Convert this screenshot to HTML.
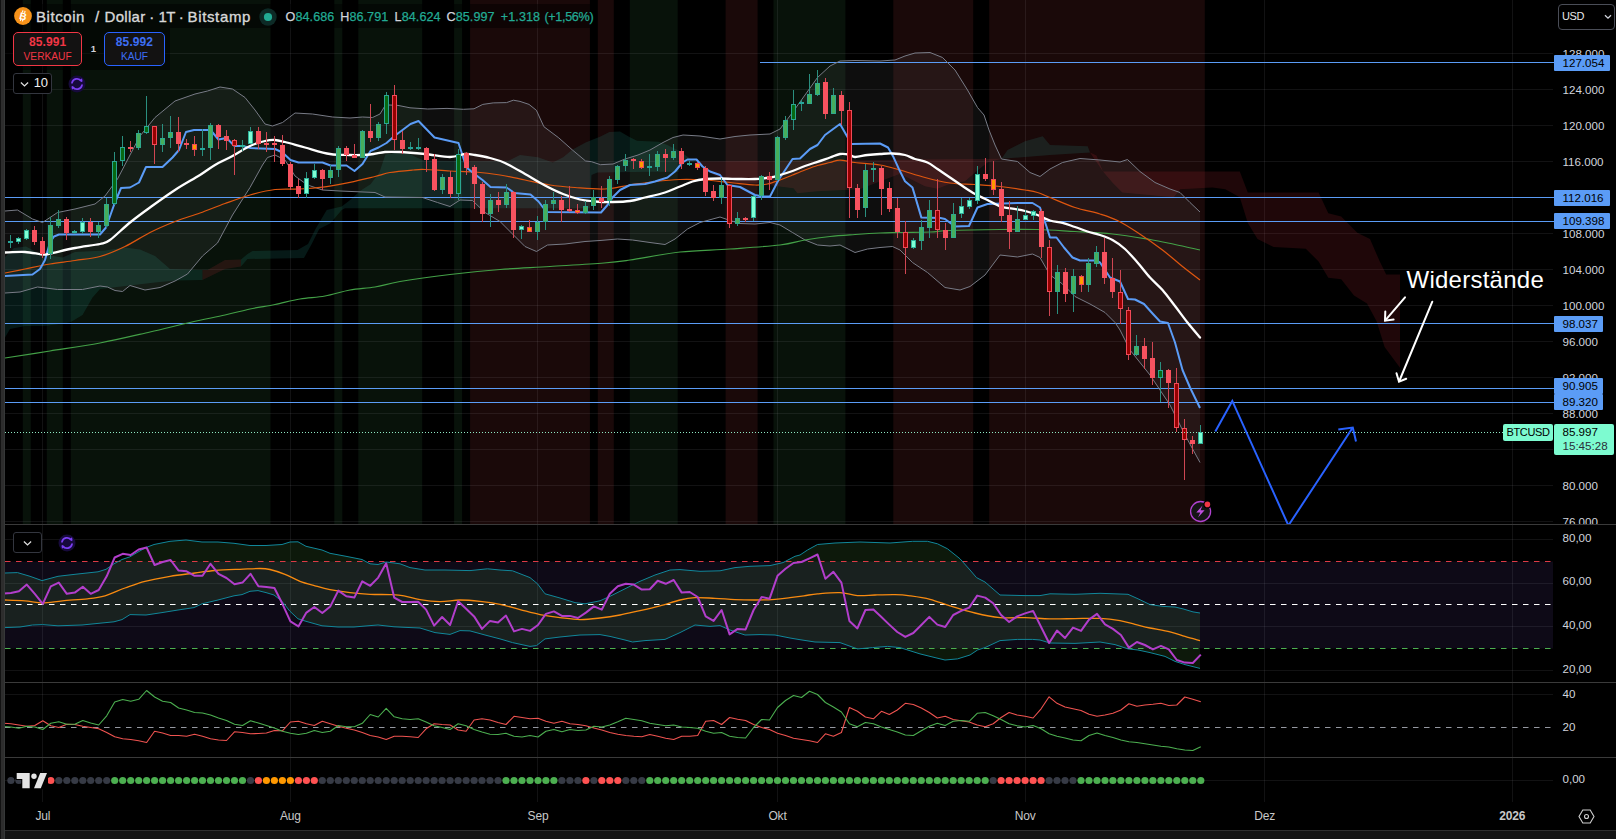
<!DOCTYPE html>
<html><head><meta charset="utf-8"><title>BTCUSD</title><style>
html,body{margin:0;padding:0;background:#000;}
body{width:1616px;height:839px;overflow:hidden;position:relative;font-family:"Liberation Sans",sans-serif;color:#d1d4dc;}
div{box-sizing:border-box;}
.ax{position:absolute;left:1562.5px;font-size:11.6px;line-height:14px;height:14px;color:#d1d4dc;white-space:nowrap;letter-spacing:0;}
.pb{position:absolute;left:1554px;height:16px;background:#5b9cf6;color:#000;font-size:11.6px;line-height:16px;padding-left:8.5px;white-space:nowrap;letter-spacing:0;border-radius:1px;}
.lp{position:absolute;left:1554px;top:423.5px;width:60px;height:31px;background:#7dfbd0;color:#000;font-size:11.6px;line-height:14px;padding:1.5px 0 0 8.5px;letter-spacing:0;border-radius:2px;}
.lp .t{color:#2a2e39;}
.sym{position:absolute;left:1503px;top:424px;width:50px;height:17px;background:#7dfbd0;color:#000;font-size:11px;line-height:17px;text-align:center;letter-spacing:-0.35px;border-radius:2px;}
.usd{position:absolute;left:1557.5px;top:4.2px;width:57px;height:25.5px;border:1px solid #4a4d57;border-radius:4px;font-size:11px;line-height:22.5px;padding-left:3.5px;color:#e8e8e8;letter-spacing:-0.35px;background:#000;}
.usd svg{position:absolute;left:45px;top:9px;}
.tl{position:absolute;top:808.5px;width:60px;text-align:center;font-size:12px;line-height:14px;color:#c8c8c8;letter-spacing:-0.2px;}
.tl.b{font-weight:bold;}
.wid{position:absolute;left:1406.5px;top:265.3px;font-size:24px;line-height:30px;color:#fff;white-space:nowrap;letter-spacing:0.25px;}
.lgbg{position:absolute;background:rgba(0,0,0,0.45);}
.title{position:absolute;top:6.9px;font-size:15px;line-height:20px;color:#d8d8d8;white-space:nowrap;-webkit-text-stroke:0.35px #d8d8d8;}
.ohlc{position:absolute;left:285.5px;top:8.6px;font-size:12.6px;line-height:16px;white-space:nowrap;letter-spacing:0.08px;-webkit-text-stroke:0.25px currentColor;}
.ohlc .k{color:#d1d4dc;}
.ohlc .v{color:#22ab94;}
.btn{position:absolute;top:32px;height:34px;border-radius:5px;background:#131212;text-align:center;}
.btn .p{font-weight:bold;font-size:12px;line-height:13px;margin-top:3px;letter-spacing:0.1px;}
.btn .n{font-size:10.2px;line-height:12px;margin-top:1.6px;}
.sell{left:13px;width:69.3px;border:1px solid #f23645;color:#f23645;}
.buy{left:104px;width:61px;border:1px solid #2962ff;color:#3d6ef5;}
.one{position:absolute;left:89px;top:43px;width:9px;text-align:center;font-size:9.5px;line-height:12px;font-weight:bold;color:#d1d4dc;}
.coll{position:absolute;border:1px solid #33363f;border-radius:3px;background:#000;}
.coll span{position:absolute;left:19.5px;top:2px;font-size:13px;letter-spacing:-0.4px;line-height:14px;color:#f0f0f0;}
</style></head><body>
<svg width="1616" height="839" viewBox="0 0 1616 839" style="position:absolute;left:0;top:0">
<rect x="22.8" y="0" width="8" height="524" fill="#08120a"/>
<rect x="46.8" y="0" width="16" height="524" fill="#08120a"/>
<rect x="70.8" y="0" width="199.7" height="524" fill="#08120a"/>
<rect x="334.3" y="0" width="8" height="524" fill="#08120a"/>
<rect x="358.3" y="0" width="63.9" height="524" fill="#08120a"/>
<rect x="454.1" y="0" width="8" height="524" fill="#08120a"/>
<rect x="629.8" y="0" width="47.9" height="524" fill="#08120a"/>
<rect x="773.5" y="0" width="71.9" height="524" fill="#08120a"/>
<rect x="470.1" y="0" width="119.8" height="524" fill="#1a0909"/>
<rect x="597.8" y="0" width="16" height="524" fill="#1a0909"/>
<rect x="725.6" y="0" width="32" height="524" fill="#1a0909"/>
<rect x="893.3" y="0" width="79.9" height="524" fill="#1a0909"/>
<rect x="989.2" y="0" width="215.6" height="524" fill="#1a0909"/>
<line x1="5" y1="53.5" x2="1553" y2="53.5" stroke="rgba(240,243,250,0.075)" stroke-width="1"/>
<line x1="5" y1="89.5" x2="1553" y2="89.5" stroke="rgba(240,243,250,0.075)" stroke-width="1"/>
<line x1="5" y1="125.5" x2="1553" y2="125.5" stroke="rgba(240,243,250,0.075)" stroke-width="1"/>
<line x1="5" y1="161.5" x2="1553" y2="161.5" stroke="rgba(240,243,250,0.075)" stroke-width="1"/>
<line x1="5" y1="197.5" x2="1553" y2="197.5" stroke="rgba(240,243,250,0.075)" stroke-width="1"/>
<line x1="5" y1="233.5" x2="1553" y2="233.5" stroke="rgba(240,243,250,0.075)" stroke-width="1"/>
<line x1="5" y1="269.5" x2="1553" y2="269.5" stroke="rgba(240,243,250,0.075)" stroke-width="1"/>
<line x1="5" y1="305.5" x2="1553" y2="305.5" stroke="rgba(240,243,250,0.075)" stroke-width="1"/>
<line x1="5" y1="341.5" x2="1553" y2="341.5" stroke="rgba(240,243,250,0.075)" stroke-width="1"/>
<line x1="5" y1="377.5" x2="1553" y2="377.5" stroke="rgba(240,243,250,0.075)" stroke-width="1"/>
<line x1="5" y1="413.5" x2="1553" y2="413.5" stroke="rgba(240,243,250,0.075)" stroke-width="1"/>
<line x1="5" y1="449.5" x2="1553" y2="449.5" stroke="rgba(240,243,250,0.075)" stroke-width="1"/>
<line x1="5" y1="485.5" x2="1553" y2="485.5" stroke="rgba(240,243,250,0.075)" stroke-width="1"/>
<line x1="5" y1="521.5" x2="1553" y2="521.5" stroke="rgba(240,243,250,0.075)" stroke-width="1"/>
<line x1="42.5" y1="0" x2="42.5" y2="802" stroke="rgba(240,243,250,0.075)" stroke-width="1"/>
<line x1="290.5" y1="0" x2="290.5" y2="802" stroke="rgba(240,243,250,0.075)" stroke-width="1"/>
<line x1="537.5" y1="0" x2="537.5" y2="802" stroke="rgba(240,243,250,0.075)" stroke-width="1"/>
<line x1="777.5" y1="0" x2="777.5" y2="802" stroke="rgba(240,243,250,0.075)" stroke-width="1"/>
<line x1="1025.5" y1="0" x2="1025.5" y2="802" stroke="rgba(240,243,250,0.075)" stroke-width="1"/>
<line x1="1264.5" y1="0" x2="1264.5" y2="802" stroke="rgba(240,243,250,0.075)" stroke-width="1"/>
<line x1="1512.5" y1="0" x2="1512.5" y2="802" stroke="rgba(240,243,250,0.075)" stroke-width="1"/>
<line x1="5" y1="539.5" x2="1553" y2="539.5" stroke="rgba(240,243,250,0.075)" stroke-width="1"/>
<line x1="5" y1="583.5" x2="1553" y2="583.5" stroke="rgba(240,243,250,0.075)" stroke-width="1"/>
<line x1="5" y1="626.5" x2="1553" y2="626.5" stroke="rgba(240,243,250,0.075)" stroke-width="1"/>
<line x1="5" y1="670.5" x2="1553" y2="670.5" stroke="rgba(240,243,250,0.075)" stroke-width="1"/>
<line x1="5" y1="694.5" x2="1553" y2="694.5" stroke="rgba(240,243,250,0.075)" stroke-width="1"/>
<line x1="5" y1="780.5" x2="1553" y2="780.5" stroke="rgba(240,243,250,0.075)" stroke-width="1"/>
<polygon points="5.0,257.0 14.0,248.0 26.0,246.5 40.0,254.0 62.5,257.5 75.0,252.0 105.0,250.5 125.0,247.5 140.0,249.5 155.0,256.0 170.0,269.0 202.5,270.0 202.5,280.0 175.0,280.5 155.0,282.5 100.0,289.0 92.5,297.5 82.5,315.0 70.0,322.5 45.0,326.0 25.0,326.0 10.0,329.0 5.0,337.5" fill="rgba(38,166,154,0.15)"/>
<polygon points="202.5,270.0 207.5,270.0 225.0,260.0 241.0,259.5 241.0,266.5 225.0,269.0 202.5,280.0" fill="rgba(242,54,69,0.13)"/>
<polygon points="241.0,259.5 247.5,254.0 252.5,251.0 297.5,250.0 308.0,244.0 315.5,229.0 326.7,210.0 341.7,206.4 349.2,200.7 360.0,191.0 370.5,184.3 379.4,172.4 385.4,154.5 394.3,153.0 409.2,153.8 416.7,157.5 424.0,160.5 470.0,161.2 508.0,161.0 520.0,155.0 538.0,157.3 552.8,162.5 563.2,157.3 572.2,149.8 585.6,142.4 600.5,136.4 609.4,132.0 620.0,131.6 629.0,136.7 637.0,140.7 658.8,141.7 666.7,144.7 678.6,150.6 694.5,161.5 679.5,161.5 678.5,172.0 651.0,171.7 597.4,172.4 591.5,175.0 590.0,208.3 345.0,208.3 341.7,210.0 330.5,223.3 319.2,229.0 311.7,244.0 304.0,258.0 247.5,259.0 241.0,266.5" fill="rgba(38,166,154,0.15)"/>
<polygon points="694.5,161.5 1001.4,158.8 987.6,162.5 975.0,172.5 965.0,181.3 950.0,183.8 937.5,188.8 925.0,186.3 912.5,180.0 900.0,173.8 859.6,189.2 817.2,191.2 797.4,193.2 793.5,188.2 777.6,186.2 757.8,183.3 728.0,183.3 704.4,169.4" fill="rgba(242,54,69,0.13)"/>
<polygon points="1001.4,158.8 1007.6,150.0 1025.0,141.3 1042.7,136.3 1050.0,145.0 1087.7,146.3 1090.0,152.5 1050.0,155.0" fill="rgba(38,166,154,0.15)"/>
<polygon points="1090.0,152.5 1096.5,155.4 1103.0,171.5 1239.8,171.5 1247.8,192.4 1318.6,192.4 1328.3,213.3 1341.2,216.6 1357.3,232.7 1370.0,239.0 1379.8,261.6 1386.2,274.5 1400.0,274.5 1400.0,367.8 1384.6,346.9 1376.6,321.2 1367.0,303.5 1354.0,295.4 1341.2,279.3 1328.3,277.7 1318.6,261.6 1305.8,248.7 1273.6,247.1 1257.5,239.1 1247.8,223.0 1239.8,197.2 1225.3,189.2 1212.4,187.6 1180.2,189.2 1173.8,197.2 1122.3,192.4 1112.6,182.8 1103.0,171.5" fill="rgba(242,54,69,0.13)"/>
<polygon points="5.0,211.0 17.5,210.0 32.5,219.0 42.5,222.5 57.5,212.5 75.0,209.0 95.0,204.0 105.0,196.0 117.5,179.0 130.0,155.0 140.0,136.0 155.0,117.5 175.0,101.0 195.0,94.0 207.5,91.0 220.0,87.0 232.5,89.0 245.0,97.5 255.0,110.0 265.0,124.0 272.5,126.0 282.5,122.5 295.0,113.0 312.5,114.0 332.5,117.0 350.0,118.0 362.5,117.0 372.5,117.5 380.0,114.0 384.5,106.6 389.0,105.0 398.0,105.4 410.0,107.8 427.7,109.0 447.0,108.4 463.4,109.3 474.0,108.8 482.8,104.4 493.2,102.9 506.6,102.6 513.3,100.2 520.0,101.4 529.0,104.4 536.4,110.3 543.9,126.7 558.8,137.9 572.2,149.8 585.6,161.0 591.5,161.7 600.5,164.7 613.0,164.0 625.0,159.0 638.0,155.0 650.0,150.0 663.0,142.5 673.0,137.5 683.0,135.0 700.0,136.0 720.0,139.0 735.0,136.5 750.0,135.0 770.0,134.0 780.0,129.0 792.5,112.5 805.0,95.0 817.5,77.5 830.0,66.0 840.0,61.0 855.0,60.5 880.0,61.0 895.0,60.0 905.0,56.0 915.0,53.0 930.0,52.5 942.5,57.5 955.0,70.0 967.5,90.0 977.5,107.5 984.0,115.0 989.0,130.0 995.0,145.0 1001.5,159.0 1017.5,161.5 1030.0,172.5 1040.0,176.5 1050.0,169.0 1062.5,162.5 1080.0,158.5 1100.0,160.0 1120.0,162.0 1127.5,159.5 1140.0,171.5 1155.0,182.5 1170.0,189.0 1180.0,192.5 1190.0,202.5 1200.0,212.0 1200.0,462.5 1185.0,435.0 1170.0,405.0 1150.0,375.0 1130.0,350.0 1120.0,330.0 1115.0,322.5 1105.0,312.5 1090.0,304.0 1075.0,296.5 1062.5,284.0 1050.0,275.0 1040.0,257.5 1032.5,254.0 1017.5,257.0 1000.0,255.0 985.0,275.0 970.0,286.5 960.0,290.0 945.0,287.5 927.5,272.5 912.5,262.5 900.0,250.0 892.5,246.5 880.0,247.5 867.5,249.0 855.0,252.5 840.0,245.0 830.0,246.0 817.5,245.0 805.0,240.0 792.5,232.5 780.0,225.0 770.0,222.5 755.0,224.0 740.0,223.5 730.0,220.5 720.0,217.0 700.0,222.5 687.5,229.0 675.0,239.0 665.0,244.5 650.0,242.5 632.5,240.0 617.5,239.0 600.0,240.5 585.0,241.5 565.0,244.0 547.5,245.0 536.5,251.5 525.0,246.5 512.5,234.0 500.0,221.5 485.0,212.5 472.5,200.5 460.0,200.0 450.0,206.5 437.5,202.5 422.5,197.5 385.0,197.0 375.0,192.5 340.0,191.0 322.5,190.0 307.5,185.0 295.0,176.0 285.0,160.0 275.0,155.0 267.5,157.5 262.5,165.0 250.0,187.5 232.5,215.0 217.5,243.0 202.5,256.0 187.5,274.0 175.0,281.0 160.0,287.5 145.0,290.0 130.0,285.5 122.5,291.5 115.0,290.5 107.5,287.0 100.0,286.0 82.5,289.5 57.5,289.5 37.5,287.0 20.0,292.0 5.0,293.0" fill="rgba(210,215,210,0.066)"/>
<line x1="760" y1="62.5" x2="1554" y2="62.5" stroke="#5b9cf6" stroke-width="1"/>
<line x1="5" y1="197.5" x2="1554" y2="197.5" stroke="#5b9cf6" stroke-width="1"/>
<line x1="5" y1="221.5" x2="1554" y2="221.5" stroke="#5b9cf6" stroke-width="1"/>
<line x1="5" y1="323.5" x2="1554" y2="323.5" stroke="#5b9cf6" stroke-width="1"/>
<line x1="5" y1="388.5" x2="1554" y2="388.5" stroke="#5b9cf6" stroke-width="1"/>
<line x1="5" y1="402.5" x2="1554" y2="402.5" stroke="#5b9cf6" stroke-width="1"/>
<polyline points="5.0,211.0 17.5,210.0 32.5,219.0 42.5,222.5 57.5,212.5 75.0,209.0 95.0,204.0 105.0,196.0 117.5,179.0 130.0,155.0 140.0,136.0 155.0,117.5 175.0,101.0 195.0,94.0 207.5,91.0 220.0,87.0 232.5,89.0 245.0,97.5 255.0,110.0 265.0,124.0 272.5,126.0 282.5,122.5 295.0,113.0 312.5,114.0 332.5,117.0 350.0,118.0 362.5,117.0 372.5,117.5 380.0,114.0 384.5,106.6 389.0,105.0 398.0,105.4 410.0,107.8 427.7,109.0 447.0,108.4 463.4,109.3 474.0,108.8 482.8,104.4 493.2,102.9 506.6,102.6 513.3,100.2 520.0,101.4 529.0,104.4 536.4,110.3 543.9,126.7 558.8,137.9 572.2,149.8 585.6,161.0 591.5,161.7 600.5,164.7 613.0,164.0 625.0,159.0 638.0,155.0 650.0,150.0 663.0,142.5 673.0,137.5 683.0,135.0 700.0,136.0 720.0,139.0 735.0,136.5 750.0,135.0 770.0,134.0 780.0,129.0 792.5,112.5 805.0,95.0 817.5,77.5 830.0,66.0 840.0,61.0 855.0,60.5 880.0,61.0 895.0,60.0 905.0,56.0 915.0,53.0 930.0,52.5 942.5,57.5 955.0,70.0 967.5,90.0 977.5,107.5 984.0,115.0 989.0,130.0 995.0,145.0 1001.5,159.0 1017.5,161.5 1030.0,172.5 1040.0,176.5 1050.0,169.0 1062.5,162.5 1080.0,158.5 1100.0,160.0 1120.0,162.0 1127.5,159.5 1140.0,171.5 1155.0,182.5 1170.0,189.0 1180.0,192.5 1190.0,202.5 1200.0,212.0" fill="none" stroke="#787b86" stroke-width="1" stroke-linejoin="round"/>
<polyline points="5.0,293.0 20.0,292.0 37.5,287.0 57.5,289.5 82.5,289.5 100.0,286.0 107.5,287.0 115.0,290.5 122.5,291.5 130.0,285.5 145.0,290.0 160.0,287.5 175.0,281.0 187.5,274.0 202.5,256.0 217.5,243.0 232.5,215.0 250.0,187.5 262.5,165.0 267.5,157.5 275.0,155.0 285.0,160.0 295.0,176.0 307.5,185.0 322.5,190.0 340.0,191.0 375.0,192.5 385.0,197.0 422.5,197.5 437.5,202.5 450.0,206.5 460.0,200.0 472.5,200.5 485.0,212.5 500.0,221.5 512.5,234.0 525.0,246.5 536.5,251.5 547.5,245.0 565.0,244.0 585.0,241.5 600.0,240.5 617.5,239.0 632.5,240.0 650.0,242.5 665.0,244.5 675.0,239.0 687.5,229.0 700.0,222.5 720.0,217.0 730.0,220.5 740.0,223.5 755.0,224.0 770.0,222.5 780.0,225.0 792.5,232.5 805.0,240.0 817.5,245.0 830.0,246.0 840.0,245.0 855.0,252.5 867.5,249.0 880.0,247.5 892.5,246.5 900.0,250.0 912.5,262.5 927.5,272.5 945.0,287.5 960.0,290.0 970.0,286.5 985.0,275.0 1000.0,255.0 1017.5,257.0 1032.5,254.0 1040.0,257.5 1050.0,275.0 1062.5,284.0 1075.0,296.5 1090.0,304.0 1105.0,312.5 1115.0,322.5 1120.0,330.0 1130.0,350.0 1150.0,375.0 1170.0,405.0 1185.0,435.0 1200.0,462.5" fill="none" stroke="#787b86" stroke-width="1" stroke-linejoin="round"/>
<path d="M5.0 358.0 C12.5 356.8 34.2 353.5 50.0 351.0 C65.8 348.5 83.3 346.2 100.0 343.0 C116.7 339.8 135.0 335.4 150.0 332.0 C165.0 328.6 177.5 325.3 190.0 322.5 C202.5 319.7 215.0 317.2 225.0 315.0 C235.0 312.8 241.7 310.8 250.0 309.0 C258.3 307.2 266.7 306.2 275.0 304.5 C283.3 302.8 291.7 300.4 300.0 299.0 C308.3 297.6 316.7 297.5 325.0 296.0 C333.3 294.5 341.7 291.5 350.0 290.0 C358.3 288.5 366.7 288.4 375.0 287.0 C383.3 285.6 387.5 283.6 400.0 281.5 C412.5 279.4 433.3 276.5 450.0 274.5 C466.7 272.5 483.3 270.8 500.0 269.5 C516.7 268.2 532.7 267.6 550.0 266.5 C567.3 265.4 590.7 264.1 604.0 263.0 C617.3 261.9 617.3 261.8 630.0 260.0 C642.7 258.2 663.3 253.8 680.0 252.0 C696.7 250.2 713.3 250.2 730.0 249.0 C746.7 247.8 767.5 246.5 780.0 245.0 C792.5 243.5 796.7 241.4 805.0 240.0 C813.3 238.6 821.7 237.4 830.0 236.5 C838.3 235.6 846.7 235.1 855.0 234.5 C863.3 233.9 872.5 233.3 880.0 233.0 C887.5 232.7 891.7 232.7 900.0 232.5 C908.3 232.3 921.7 232.3 930.0 232.0 C938.3 231.7 938.3 230.9 950.0 230.5 C961.7 230.1 985.4 229.7 1000.0 229.5 C1014.6 229.3 1025.0 229.2 1037.5 229.5 C1050.0 229.8 1062.5 230.8 1075.0 231.5 C1087.5 232.2 1100.0 232.7 1112.5 234.0 C1125.0 235.3 1139.6 237.8 1150.0 239.5 C1160.4 241.2 1166.7 242.8 1175.0 244.5 C1183.3 246.2 1195.8 249.1 1200.0 250.0" fill="none" stroke="#43a047" stroke-width="1.2"/>
<path d="M5.0 273.0 C8.3 272.3 17.5 270.5 25.0 269.0 C32.5 267.5 41.7 265.4 50.0 264.0 C58.3 262.6 66.7 261.8 75.0 260.5 C83.3 259.2 91.7 258.8 100.0 256.5 C108.3 254.2 116.7 250.5 125.0 246.5 C133.3 242.5 141.7 236.7 150.0 232.5 C158.3 228.3 166.7 224.8 175.0 221.5 C183.3 218.2 191.7 216.0 200.0 213.0 C208.3 210.0 216.7 206.5 225.0 203.5 C233.3 200.5 241.7 197.3 250.0 195.0 C258.3 192.7 266.7 190.5 275.0 189.5 C283.3 188.5 291.7 189.4 300.0 189.0 C308.3 188.6 316.7 187.9 325.0 186.8 C333.3 185.7 341.7 184.0 350.0 182.3 C358.3 180.6 368.3 178.1 375.0 176.5 C381.7 174.9 383.8 173.6 390.0 172.5 C396.2 171.4 406.7 170.5 412.5 170.0 C418.3 169.5 418.8 169.3 425.0 169.5 C431.2 169.7 441.7 170.6 450.0 171.0 C458.3 171.4 466.7 171.3 475.0 172.0 C483.3 172.7 491.7 173.7 500.0 175.0 C508.3 176.3 516.7 178.3 525.0 180.0 C533.3 181.7 541.7 183.8 550.0 185.0 C558.3 186.2 565.8 186.8 575.0 187.5 C584.2 188.2 595.8 189.4 605.0 189.0 C614.2 188.6 621.7 186.2 630.0 185.0 C638.3 183.8 646.7 182.4 655.0 181.5 C663.3 180.6 671.7 179.8 680.0 179.5 C688.3 179.2 696.7 179.5 705.0 180.0 C713.3 180.5 721.7 181.7 730.0 182.5 C738.3 183.3 748.8 184.8 755.0 185.0 C761.2 185.2 763.3 184.8 767.5 184.0 C771.7 183.2 775.8 181.5 780.0 180.0 C784.2 178.5 788.3 176.7 792.5 175.0 C796.7 173.3 800.8 171.6 805.0 170.0 C809.2 168.4 813.3 166.8 817.5 165.5 C821.7 164.2 826.2 163.4 830.0 162.5 C833.8 161.6 835.8 160.0 840.0 160.0 C844.2 160.0 848.3 161.7 855.0 162.5 C861.7 163.3 872.5 163.8 880.0 165.0 C887.5 166.2 892.5 167.9 900.0 170.0 C907.5 172.1 916.7 175.3 925.0 177.5 C933.3 179.7 941.7 181.8 950.0 183.0 C958.3 184.2 966.7 183.9 975.0 184.5 C983.3 185.1 991.7 185.6 1000.0 186.5 C1008.3 187.4 1018.8 189.0 1025.0 190.0 C1031.2 191.0 1033.3 191.2 1037.5 192.5 C1041.7 193.8 1043.8 195.0 1050.0 197.5 C1056.2 200.0 1066.7 204.8 1075.0 207.5 C1083.3 210.2 1092.9 211.8 1100.0 214.0 C1107.1 216.2 1111.2 217.4 1117.5 220.5 C1123.8 223.6 1130.0 227.6 1137.5 232.5 C1145.0 237.4 1155.0 244.3 1162.5 250.0 C1170.0 255.7 1176.2 261.5 1182.5 266.5 C1188.8 271.5 1197.1 277.8 1200.0 280.0" fill="none" stroke="#de560f" stroke-width="1.25"/>
<polyline points="5.0,276.0 32.5,274.5 40.0,269.0 45.0,260.0 50.0,242.5 54.0,236.5 59.0,234.5 100.0,234.5 106.0,227.5 114.0,205.0 121.0,188.0 130.0,187.5 139.0,182.5 146.0,167.0 162.5,167.0 172.5,157.5 179.0,150.0 186.0,132.0 194.0,130.0 210.5,130.0 218.5,139.5 226.5,138.0 234.5,146.0 242.5,146.0 250.5,148.0 275.0,149.0 282.5,152.5 290.5,160.0 298.5,162.5 322.5,162.5 330.5,165.5 346.5,165.5 354.5,171.0 362.5,164.0 370.5,151.0 378.5,147.5 386.5,143.0 394.5,136.0 402.5,130.0 410.5,124.0 418.5,121.0 434.5,137.5 458.5,143.0 466.5,167.5 474.5,174.0 482.5,180.0 490.5,187.0 506.5,187.5 514.5,193.0 530.5,194.5 538.5,201.5 546.5,212.0 601.0,212.5 607.5,205.0 612.5,197.5 620.0,190.0 630.0,185.0 645.0,184.0 655.0,181.5 667.5,177.5 675.0,171.5 682.5,162.5 687.5,159.5 696.5,159.5 702.5,166.5 710.0,171.5 720.0,175.0 727.5,185.0 740.0,187.0 755.0,195.0 762.5,196.5 770.0,196.5 778.5,180.0 792.5,159.0 800.0,158.5 810.0,149.0 817.5,145.0 825.0,135.0 840.0,124.0 851.5,144.0 880.0,143.5 888.0,147.5 893.6,157.3 900.0,171.3 905.0,181.3 912.5,187.6 921.4,217.6 940.5,218.0 945.0,219.0 955.0,226.5 969.0,226.0 977.5,207.5 987.5,204.0 1017.5,203.0 1032.5,203.0 1040.0,207.5 1046.5,226.5 1050.0,237.5 1056.5,237.5 1064.0,247.5 1072.5,257.5 1080.0,260.5 1095.0,260.5 1100.0,262.5 1110.0,277.5 1120.0,281.5 1128.0,299.0 1135.0,299.5 1144.0,304.0 1153.0,314.0 1160.0,321.5 1168.0,323.0 1175.0,342.5 1182.5,370.0 1190.0,387.5 1200.0,408.0" fill="none" stroke="#5b9cf6" stroke-width="2" stroke-linejoin="round"/>
<path d="M5.0 252.5 C8.3 252.4 18.8 251.7 25.0 252.0 C31.2 252.3 38.3 254.2 42.5 254.5 C46.7 254.8 44.6 254.6 50.0 253.5 C55.4 252.4 66.7 249.6 75.0 248.0 C83.3 246.4 94.2 245.3 100.0 244.0 C105.8 242.7 105.0 243.6 110.0 240.0 C115.0 236.4 123.3 227.9 130.0 222.5 C136.7 217.1 142.5 212.9 150.0 207.5 C157.5 202.1 166.7 195.4 175.0 190.0 C183.3 184.6 193.3 179.2 200.0 175.0 C206.7 170.8 209.6 168.2 215.0 165.0 C220.4 161.8 226.7 159.2 232.5 156.0 C238.3 152.8 244.6 148.5 250.0 146.0 C255.4 143.5 260.8 142.0 265.0 141.0 C269.2 140.0 271.7 139.8 275.0 140.0 C278.3 140.2 280.0 140.8 285.0 142.0 C290.0 143.2 297.5 145.5 305.0 147.5 C312.5 149.5 322.5 152.8 330.0 154.0 C337.5 155.2 343.3 154.9 350.0 155.0 C356.7 155.1 364.2 155.0 370.0 154.5 C375.8 154.0 380.0 152.4 385.0 152.0 C390.0 151.6 393.3 151.7 400.0 152.0 C406.7 152.3 416.7 153.2 425.0 154.0 C433.3 154.8 443.3 157.0 450.0 157.0 C456.7 157.0 460.8 154.3 465.0 154.0 C469.2 153.7 470.8 154.3 475.0 155.0 C479.2 155.7 485.0 156.7 490.0 158.0 C495.0 159.3 499.2 160.3 505.0 163.0 C510.8 165.7 518.3 170.2 525.0 174.0 C531.7 177.8 538.7 182.2 545.0 185.5 C551.3 188.8 557.2 191.7 563.0 194.0 C568.8 196.3 574.7 198.2 580.0 199.5 C585.3 200.8 589.6 201.1 595.0 201.5 C600.4 201.9 606.7 202.1 612.5 202.0 C618.3 201.9 624.6 201.8 630.0 201.0 C635.4 200.2 639.2 198.9 645.0 197.5 C650.8 196.1 659.2 194.3 665.0 192.5 C670.8 190.7 675.4 188.3 680.0 186.5 C684.6 184.7 688.3 182.8 692.5 181.5 C696.7 180.2 700.4 179.5 705.0 179.0 C709.6 178.5 714.2 178.5 720.0 178.5 C725.8 178.5 734.2 178.9 740.0 179.0 C745.8 179.1 750.0 179.2 755.0 179.0 C760.0 178.8 765.8 178.2 770.0 177.5 C774.2 176.8 776.2 176.1 780.0 175.0 C783.8 173.9 788.3 172.5 792.5 171.0 C796.7 169.5 800.8 167.5 805.0 166.0 C809.2 164.5 813.3 163.2 817.5 161.8 C821.7 160.4 826.2 158.8 830.0 157.5 C833.8 156.2 836.8 154.5 840.0 154.0 C843.2 153.5 846.5 154.0 849.0 154.5 C851.5 155.0 851.9 156.9 855.0 157.0 C858.1 157.1 863.3 155.5 867.5 155.0 C871.7 154.5 875.8 154.2 880.0 154.0 C884.2 153.8 888.3 153.3 892.5 153.5 C896.7 153.7 901.2 154.1 905.0 155.0 C908.8 155.9 911.2 157.8 915.0 159.0 C918.8 160.2 923.8 160.8 927.5 162.5 C931.2 164.2 933.8 166.5 937.5 169.0 C941.2 171.5 945.8 174.7 950.0 177.5 C954.2 180.3 958.3 183.2 962.5 186.0 C966.7 188.8 970.8 191.7 975.0 194.0 C979.2 196.3 983.3 197.9 987.5 200.0 C991.7 202.1 995.8 204.9 1000.0 206.3 C1004.2 207.8 1008.3 207.9 1012.5 208.7 C1016.7 209.5 1020.8 209.9 1025.0 211.0 C1029.2 212.1 1033.3 213.4 1037.5 215.0 C1041.7 216.6 1045.8 219.2 1050.0 220.5 C1054.2 221.8 1058.3 221.7 1062.5 222.8 C1066.7 223.9 1070.8 225.6 1075.0 227.0 C1079.2 228.4 1083.3 230.2 1087.5 231.5 C1091.7 232.8 1095.8 233.6 1100.0 235.0 C1104.2 236.4 1108.3 237.7 1112.5 240.0 C1116.7 242.3 1120.8 245.2 1125.0 249.0 C1129.2 252.8 1133.3 257.8 1137.5 262.5 C1141.7 267.2 1145.8 272.9 1150.0 277.5 C1154.2 282.1 1158.3 285.2 1162.5 290.0 C1166.7 294.8 1170.8 300.6 1175.0 306.0 C1179.2 311.4 1183.3 317.2 1187.5 322.5 C1191.7 327.8 1197.9 335.0 1200.0 337.5" fill="none" stroke="#ffffff" stroke-width="2.3" stroke-linecap="round"/>
<line x1="10.5" y1="235" x2="10.5" y2="248" stroke="#2a8f7f" stroke-width="1"/>
<rect x="8" y="241" width="5" height="2" fill="#26a69a"/>
<line x1="18.5" y1="237" x2="18.5" y2="244" stroke="#2a8f7f" stroke-width="1"/>
<rect x="16.5" y="238.5" width="4" height="3" fill="#7fffd4" stroke="#2fb09a" stroke-width="1"/>
<line x1="26.5" y1="229" x2="26.5" y2="240" stroke="#2a8f7f" stroke-width="1"/>
<rect x="24.5" y="230.5" width="4" height="8" fill="#7fffd4" stroke="#2fb09a" stroke-width="1"/>
<line x1="34.5" y1="226" x2="34.5" y2="245" stroke="#d04652" stroke-width="1"/>
<rect x="32.5" y="230.5" width="4" height="11" fill="#f7525f" stroke="#f7525f" stroke-width="1"/>
<line x1="42.5" y1="237" x2="42.5" y2="258" stroke="#d04652" stroke-width="1"/>
<rect x="40.5" y="241.5" width="4" height="12" fill="#f7525f" stroke="#f7525f" stroke-width="1"/>
<line x1="50.5" y1="217" x2="50.5" y2="259" stroke="#2a8f7f" stroke-width="1"/>
<rect x="48.5" y="225.5" width="4" height="28" fill="#46ae5b" stroke="#2fa88c" stroke-width="1"/>
<line x1="58.5" y1="210" x2="58.5" y2="228" stroke="#2a8f7f" stroke-width="1"/>
<rect x="56.5" y="219.5" width="4" height="6" fill="#46ae5b" stroke="#2fa88c" stroke-width="1"/>
<line x1="66.5" y1="217" x2="66.5" y2="240" stroke="#d04652" stroke-width="1"/>
<rect x="64.5" y="219.5" width="4" height="13" fill="#f7525f" stroke="#f7525f" stroke-width="1"/>
<line x1="74.5" y1="230" x2="74.5" y2="234" stroke="#2a8f7f" stroke-width="1"/>
<rect x="72" y="231" width="5" height="2" fill="#2fb09a"/>
<line x1="82.5" y1="218" x2="82.5" y2="234" stroke="#2a8f7f" stroke-width="1"/>
<rect x="80.5" y="222.5" width="4" height="9" fill="#7fffd4" stroke="#2fb09a" stroke-width="1"/>
<line x1="90.5" y1="218" x2="90.5" y2="237" stroke="#d04652" stroke-width="1"/>
<rect x="88.5" y="222.5" width="4" height="9" fill="#f7525f" stroke="#f7525f" stroke-width="1"/>
<line x1="98.5" y1="222" x2="98.5" y2="238" stroke="#2a8f7f" stroke-width="1"/>
<rect x="96.5" y="225.5" width="4" height="6" fill="#46ae5b" stroke="#2fa88c" stroke-width="1"/>
<line x1="106.5" y1="198" x2="106.5" y2="228" stroke="#2a8f7f" stroke-width="1"/>
<rect x="104.5" y="204.5" width="4" height="21" fill="#46ae5b" stroke="#2fa88c" stroke-width="1"/>
<line x1="114.5" y1="152" x2="114.5" y2="205" stroke="#2a8f7f" stroke-width="1"/>
<rect x="112.5" y="161.5" width="4" height="42" fill="#066a12" stroke="#2aa692" stroke-width="1"/>
<line x1="122.5" y1="136" x2="122.5" y2="166" stroke="#2a8f7f" stroke-width="1"/>
<rect x="120.5" y="147.5" width="4" height="13" fill="#066a12" stroke="#2aa692" stroke-width="1"/>
<line x1="130.5" y1="141" x2="130.5" y2="152" stroke="#d04652" stroke-width="1"/>
<rect x="128" y="147" width="5" height="2" fill="#f7525f"/>
<line x1="138.5" y1="130" x2="138.5" y2="150" stroke="#2a8f7f" stroke-width="1"/>
<rect x="136.5" y="133.5" width="4" height="14" fill="#46ae5b" stroke="#2fa88c" stroke-width="1"/>
<line x1="146.5" y1="96" x2="146.5" y2="134" stroke="#2a8f7f" stroke-width="1"/>
<rect x="144.5" y="126.5" width="4" height="6" fill="#066a12" stroke="#2aa692" stroke-width="1"/>
<line x1="154.5" y1="126" x2="154.5" y2="164" stroke="#d04652" stroke-width="1"/>
<rect x="152.5" y="126.5" width="4" height="18" fill="#960000" stroke="#f04a58" stroke-width="1"/>
<line x1="162.5" y1="124" x2="162.5" y2="152" stroke="#2a8f7f" stroke-width="1"/>
<rect x="160.5" y="138.5" width="4" height="6" fill="#46ae5b" stroke="#2fa88c" stroke-width="1"/>
<line x1="170.5" y1="116" x2="170.5" y2="148" stroke="#2a8f7f" stroke-width="1"/>
<rect x="168.5" y="132.5" width="4" height="5" fill="#46ae5b" stroke="#2fa88c" stroke-width="1"/>
<line x1="178.5" y1="117" x2="178.5" y2="152" stroke="#d04652" stroke-width="1"/>
<rect x="176.5" y="132.5" width="4" height="11" fill="#f7525f" stroke="#f7525f" stroke-width="1"/>
<line x1="186.5" y1="139" x2="186.5" y2="149" stroke="#d04652" stroke-width="1"/>
<rect x="184" y="143" width="5" height="2" fill="#f7525f"/>
<line x1="194.5" y1="136" x2="194.5" y2="156" stroke="#d04652" stroke-width="1"/>
<rect x="192.5" y="144.5" width="4" height="5" fill="#ff9800" stroke="#f04a58" stroke-width="1"/>
<line x1="202.5" y1="129" x2="202.5" y2="156" stroke="#2a8f7f" stroke-width="1"/>
<rect x="200.5" y="148.5" width="4" height="1" fill="#26a69a" stroke="#26a69a" stroke-width="1"/>
<line x1="210.5" y1="123" x2="210.5" y2="160" stroke="#2a8f7f" stroke-width="1"/>
<rect x="208.5" y="125.5" width="4" height="22" fill="#46ae5b" stroke="#2fa88c" stroke-width="1"/>
<line x1="218.5" y1="124" x2="218.5" y2="149" stroke="#d04652" stroke-width="1"/>
<rect x="216.5" y="125.5" width="4" height="11" fill="#f7525f" stroke="#f7525f" stroke-width="1"/>
<line x1="226.5" y1="130" x2="226.5" y2="150" stroke="#d04652" stroke-width="1"/>
<rect x="224.5" y="136.5" width="4" height="4" fill="#f7525f" stroke="#f7525f" stroke-width="1"/>
<line x1="234.5" y1="139" x2="234.5" y2="175" stroke="#d04652" stroke-width="1"/>
<rect x="232.5" y="140.5" width="4" height="5" fill="#960000" stroke="#f04a58" stroke-width="1"/>
<line x1="242.5" y1="140" x2="242.5" y2="151" stroke="#2a8f7f" stroke-width="1"/>
<rect x="240" y="145" width="5" height="2" fill="#2fb09a"/>
<line x1="250.5" y1="127" x2="250.5" y2="144" stroke="#2a8f7f" stroke-width="1"/>
<rect x="248.5" y="131.5" width="4" height="12" fill="#7fffd4" stroke="#2fb09a" stroke-width="1"/>
<line x1="258.5" y1="127" x2="258.5" y2="149" stroke="#d04652" stroke-width="1"/>
<rect x="256.5" y="131.5" width="4" height="12" fill="#f7525f" stroke="#f7525f" stroke-width="1"/>
<line x1="266.5" y1="132" x2="266.5" y2="152" stroke="#d04652" stroke-width="1"/>
<rect x="264" y="143" width="5" height="2" fill="#f7525f"/>
<line x1="274.5" y1="136" x2="274.5" y2="162" stroke="#d04652" stroke-width="1"/>
<rect x="272" y="143" width="5" height="2" fill="#f7525f"/>
<line x1="282.5" y1="135" x2="282.5" y2="166" stroke="#d04652" stroke-width="1"/>
<rect x="280.5" y="145.5" width="4" height="18" fill="#f7525f" stroke="#f7525f" stroke-width="1"/>
<line x1="290.5" y1="162" x2="290.5" y2="190" stroke="#d04652" stroke-width="1"/>
<rect x="288.5" y="164.5" width="4" height="22" fill="#f7525f" stroke="#f7525f" stroke-width="1"/>
<line x1="298.5" y1="179" x2="298.5" y2="198" stroke="#d04652" stroke-width="1"/>
<rect x="296.5" y="186.5" width="4" height="7" fill="#f7525f" stroke="#f7525f" stroke-width="1"/>
<line x1="306.5" y1="172" x2="306.5" y2="198" stroke="#2a8f7f" stroke-width="1"/>
<rect x="304.5" y="178.5" width="4" height="15" fill="#7fffd4" stroke="#2fb09a" stroke-width="1"/>
<line x1="314.5" y1="164" x2="314.5" y2="179" stroke="#2a8f7f" stroke-width="1"/>
<rect x="312.5" y="170.5" width="4" height="7" fill="#7fffd4" stroke="#2fb09a" stroke-width="1"/>
<line x1="322.5" y1="169" x2="322.5" y2="190" stroke="#d04652" stroke-width="1"/>
<rect x="320.5" y="170.5" width="4" height="8" fill="#f7525f" stroke="#f7525f" stroke-width="1"/>
<line x1="330.5" y1="165" x2="330.5" y2="184" stroke="#2a8f7f" stroke-width="1"/>
<rect x="328.5" y="170.5" width="4" height="7" fill="#46ae5b" stroke="#2fa88c" stroke-width="1"/>
<line x1="338.5" y1="146" x2="338.5" y2="177" stroke="#2a8f7f" stroke-width="1"/>
<rect x="336.5" y="148.5" width="4" height="21" fill="#46ae5b" stroke="#2fa88c" stroke-width="1"/>
<line x1="346.5" y1="146" x2="346.5" y2="161" stroke="#d04652" stroke-width="1"/>
<rect x="344.5" y="148.5" width="4" height="6" fill="#f7525f" stroke="#f7525f" stroke-width="1"/>
<line x1="354.5" y1="144" x2="354.5" y2="158" stroke="#d04652" stroke-width="1"/>
<rect x="352.5" y="155.5" width="4" height="2" fill="#f7525f" stroke="#f7525f" stroke-width="1"/>
<line x1="362.5" y1="130" x2="362.5" y2="158" stroke="#2a8f7f" stroke-width="1"/>
<rect x="360.5" y="131.5" width="4" height="26" fill="#46ae5b" stroke="#2fa88c" stroke-width="1"/>
<line x1="370.5" y1="104" x2="370.5" y2="142" stroke="#d04652" stroke-width="1"/>
<rect x="368.5" y="131.5" width="4" height="6" fill="#f7525f" stroke="#f7525f" stroke-width="1"/>
<line x1="378.5" y1="122" x2="378.5" y2="141" stroke="#2a8f7f" stroke-width="1"/>
<rect x="376.5" y="124.5" width="4" height="13" fill="#46ae5b" stroke="#2fa88c" stroke-width="1"/>
<line x1="386.5" y1="92" x2="386.5" y2="134" stroke="#2a8f7f" stroke-width="1"/>
<rect x="384.5" y="95.5" width="4" height="28" fill="#066a12" stroke="#2aa692" stroke-width="1"/>
<line x1="394.5" y1="85" x2="394.5" y2="150" stroke="#d04652" stroke-width="1"/>
<rect x="392.5" y="95.5" width="4" height="44" fill="#960000" stroke="#f04a58" stroke-width="1"/>
<line x1="402.5" y1="131" x2="402.5" y2="154" stroke="#d04652" stroke-width="1"/>
<rect x="400.5" y="140.5" width="4" height="8" fill="#f7525f" stroke="#f7525f" stroke-width="1"/>
<line x1="410.5" y1="142" x2="410.5" y2="150" stroke="#2a8f7f" stroke-width="1"/>
<rect x="408" y="147" width="5" height="2" fill="#26a69a"/>
<line x1="418.5" y1="138" x2="418.5" y2="150" stroke="#2a8f7f" stroke-width="1"/>
<rect x="416" y="147" width="5" height="2" fill="#26a69a"/>
<line x1="426.5" y1="147" x2="426.5" y2="172" stroke="#d04652" stroke-width="1"/>
<rect x="424.5" y="148.5" width="4" height="11" fill="#f7525f" stroke="#f7525f" stroke-width="1"/>
<line x1="434.5" y1="154" x2="434.5" y2="191" stroke="#d04652" stroke-width="1"/>
<rect x="432.5" y="159.5" width="4" height="30" fill="#f7525f" stroke="#f7525f" stroke-width="1"/>
<line x1="442.5" y1="174" x2="442.5" y2="194" stroke="#2a8f7f" stroke-width="1"/>
<rect x="440.5" y="177.5" width="4" height="12" fill="#46ae5b" stroke="#2fa88c" stroke-width="1"/>
<line x1="450.5" y1="171" x2="450.5" y2="198" stroke="#d04652" stroke-width="1"/>
<rect x="448.5" y="177.5" width="4" height="16" fill="#f7525f" stroke="#f7525f" stroke-width="1"/>
<line x1="458.5" y1="149" x2="458.5" y2="200" stroke="#2a8f7f" stroke-width="1"/>
<rect x="456.5" y="154.5" width="4" height="39" fill="#066a12" stroke="#2aa692" stroke-width="1"/>
<line x1="466.5" y1="152" x2="466.5" y2="175" stroke="#d04652" stroke-width="1"/>
<rect x="464.5" y="153.5" width="4" height="14" fill="#f7525f" stroke="#f7525f" stroke-width="1"/>
<line x1="474.5" y1="165" x2="474.5" y2="209" stroke="#d04652" stroke-width="1"/>
<rect x="472.5" y="167.5" width="4" height="16" fill="#f7525f" stroke="#f7525f" stroke-width="1"/>
<line x1="482.5" y1="182" x2="482.5" y2="222" stroke="#d04652" stroke-width="1"/>
<rect x="480.5" y="184.5" width="4" height="29" fill="#f7525f" stroke="#f7525f" stroke-width="1"/>
<line x1="490.5" y1="194" x2="490.5" y2="227" stroke="#2a8f7f" stroke-width="1"/>
<rect x="488.5" y="200.5" width="4" height="13" fill="#46ae5b" stroke="#2fa88c" stroke-width="1"/>
<line x1="498.5" y1="192" x2="498.5" y2="212" stroke="#d04652" stroke-width="1"/>
<rect x="496.5" y="200.5" width="4" height="4" fill="#f7525f" stroke="#f7525f" stroke-width="1"/>
<line x1="506.5" y1="184" x2="506.5" y2="208" stroke="#2a8f7f" stroke-width="1"/>
<rect x="504.5" y="192.5" width="4" height="12" fill="#46ae5b" stroke="#2fa88c" stroke-width="1"/>
<line x1="513.5" y1="191" x2="513.5" y2="238" stroke="#d04652" stroke-width="1"/>
<rect x="511.5" y="192.5" width="4" height="37" fill="#f7525f" stroke="#f7525f" stroke-width="1"/>
<line x1="521.5" y1="225" x2="521.5" y2="239" stroke="#2a8f7f" stroke-width="1"/>
<rect x="519.5" y="226.5" width="4" height="3" fill="#7fffd4" stroke="#2fb09a" stroke-width="1"/>
<line x1="529.5" y1="220" x2="529.5" y2="232" stroke="#d04652" stroke-width="1"/>
<rect x="527.5" y="227.5" width="4" height="4" fill="#ff9800" stroke="#f04a58" stroke-width="1"/>
<line x1="537.5" y1="216" x2="537.5" y2="240" stroke="#2a8f7f" stroke-width="1"/>
<rect x="535.5" y="222.5" width="4" height="9" fill="#46ae5b" stroke="#2fa88c" stroke-width="1"/>
<line x1="545.5" y1="200" x2="545.5" y2="230" stroke="#2a8f7f" stroke-width="1"/>
<rect x="543.5" y="204.5" width="4" height="17" fill="#46ae5b" stroke="#2fa88c" stroke-width="1"/>
<line x1="553.5" y1="192" x2="553.5" y2="210" stroke="#2a8f7f" stroke-width="1"/>
<rect x="551.5" y="200.5" width="4" height="3" fill="#46ae5b" stroke="#2fa88c" stroke-width="1"/>
<line x1="561.5" y1="196" x2="561.5" y2="222" stroke="#d04652" stroke-width="1"/>
<rect x="559.5" y="200.5" width="4" height="9" fill="#f7525f" stroke="#f7525f" stroke-width="1"/>
<line x1="569.5" y1="186" x2="569.5" y2="212" stroke="#d04652" stroke-width="1"/>
<rect x="567" y="209" width="5" height="2" fill="#f7525f"/>
<line x1="577.5" y1="204" x2="577.5" y2="214" stroke="#d04652" stroke-width="1"/>
<rect x="575.5" y="210.5" width="4" height="2" fill="#ff9800" stroke="#f04a58" stroke-width="1"/>
<line x1="585.5" y1="201" x2="585.5" y2="214" stroke="#2a8f7f" stroke-width="1"/>
<rect x="583.5" y="206.5" width="4" height="6" fill="#46ae5b" stroke="#2fa88c" stroke-width="1"/>
<line x1="593.5" y1="190" x2="593.5" y2="210" stroke="#2a8f7f" stroke-width="1"/>
<rect x="591.5" y="197.5" width="4" height="8" fill="#46ae5b" stroke="#2fa88c" stroke-width="1"/>
<line x1="601.5" y1="186" x2="601.5" y2="208" stroke="#d04652" stroke-width="1"/>
<rect x="599.5" y="198.5" width="4" height="3" fill="#f7525f" stroke="#f7525f" stroke-width="1"/>
<line x1="609.5" y1="176" x2="609.5" y2="206" stroke="#2a8f7f" stroke-width="1"/>
<rect x="607.5" y="179.5" width="4" height="21" fill="#46ae5b" stroke="#2fa88c" stroke-width="1"/>
<line x1="617.5" y1="165" x2="617.5" y2="184" stroke="#2a8f7f" stroke-width="1"/>
<rect x="615.5" y="166.5" width="4" height="13" fill="#46ae5b" stroke="#2fa88c" stroke-width="1"/>
<line x1="625.5" y1="154" x2="625.5" y2="171" stroke="#2a8f7f" stroke-width="1"/>
<rect x="623.5" y="160.5" width="4" height="5" fill="#46ae5b" stroke="#2fa88c" stroke-width="1"/>
<line x1="633.5" y1="158" x2="633.5" y2="169" stroke="#d04652" stroke-width="1"/>
<rect x="631" y="159" width="5" height="2" fill="#f7525f"/>
<line x1="641.5" y1="159" x2="641.5" y2="169" stroke="#d04652" stroke-width="1"/>
<rect x="639.5" y="161.5" width="4" height="6" fill="#ff9800" stroke="#f04a58" stroke-width="1"/>
<line x1="649.5" y1="154" x2="649.5" y2="176" stroke="#2a8f7f" stroke-width="1"/>
<rect x="647" y="166" width="5" height="2" fill="#26a69a"/>
<line x1="657.5" y1="151" x2="657.5" y2="171" stroke="#2a8f7f" stroke-width="1"/>
<rect x="655.5" y="154.5" width="4" height="12" fill="#46ae5b" stroke="#2fa88c" stroke-width="1"/>
<line x1="665.5" y1="149" x2="665.5" y2="172" stroke="#d04652" stroke-width="1"/>
<rect x="663.5" y="154.5" width="4" height="3" fill="#f7525f" stroke="#f7525f" stroke-width="1"/>
<line x1="673.5" y1="144" x2="673.5" y2="160" stroke="#2a8f7f" stroke-width="1"/>
<rect x="671.5" y="151.5" width="4" height="6" fill="#46ae5b" stroke="#2fa88c" stroke-width="1"/>
<line x1="681.5" y1="148" x2="681.5" y2="169" stroke="#d04652" stroke-width="1"/>
<rect x="679.5" y="151.5" width="4" height="12" fill="#f7525f" stroke="#f7525f" stroke-width="1"/>
<line x1="689.5" y1="161" x2="689.5" y2="166" stroke="#2a8f7f" stroke-width="1"/>
<rect x="687" y="163" width="5" height="2" fill="#26a69a"/>
<line x1="697.5" y1="162" x2="697.5" y2="170" stroke="#d04652" stroke-width="1"/>
<rect x="695.5" y="163.5" width="4" height="4" fill="#ff9800" stroke="#f04a58" stroke-width="1"/>
<line x1="705.5" y1="166" x2="705.5" y2="196" stroke="#d04652" stroke-width="1"/>
<rect x="703.5" y="168.5" width="4" height="23" fill="#f7525f" stroke="#f7525f" stroke-width="1"/>
<line x1="713.5" y1="185" x2="713.5" y2="201" stroke="#d04652" stroke-width="1"/>
<rect x="711.5" y="191.5" width="4" height="6" fill="#f7525f" stroke="#f7525f" stroke-width="1"/>
<line x1="721.5" y1="178" x2="721.5" y2="204" stroke="#2a8f7f" stroke-width="1"/>
<rect x="719.5" y="185.5" width="4" height="12" fill="#46ae5b" stroke="#2fa88c" stroke-width="1"/>
<line x1="729.5" y1="184" x2="729.5" y2="228" stroke="#d04652" stroke-width="1"/>
<rect x="727.5" y="185.5" width="4" height="38" fill="#960000" stroke="#f04a58" stroke-width="1"/>
<line x1="737.5" y1="212" x2="737.5" y2="226" stroke="#2a8f7f" stroke-width="1"/>
<rect x="735.5" y="218.5" width="4" height="5" fill="#46ae5b" stroke="#2fa88c" stroke-width="1"/>
<line x1="745.5" y1="217" x2="745.5" y2="222" stroke="#d04652" stroke-width="1"/>
<rect x="743" y="218" width="5" height="2" fill="#f7525f"/>
<line x1="753.5" y1="195" x2="753.5" y2="221" stroke="#2a8f7f" stroke-width="1"/>
<rect x="751.5" y="196.5" width="4" height="21" fill="#7fffd4" stroke="#2fb09a" stroke-width="1"/>
<line x1="761.5" y1="175" x2="761.5" y2="200" stroke="#2a8f7f" stroke-width="1"/>
<rect x="759.5" y="176.5" width="4" height="19" fill="#46ae5b" stroke="#2fa88c" stroke-width="1"/>
<line x1="769.5" y1="172" x2="769.5" y2="190" stroke="#d04652" stroke-width="1"/>
<rect x="767.5" y="176.5" width="4" height="3" fill="#f7525f" stroke="#f7525f" stroke-width="1"/>
<line x1="777.5" y1="136" x2="777.5" y2="181" stroke="#2a8f7f" stroke-width="1"/>
<rect x="775.5" y="137.5" width="4" height="42" fill="#46ae5b" stroke="#2fa88c" stroke-width="1"/>
<line x1="785.5" y1="116" x2="785.5" y2="140" stroke="#2a8f7f" stroke-width="1"/>
<rect x="783.5" y="120.5" width="4" height="17" fill="#46ae5b" stroke="#2fa88c" stroke-width="1"/>
<line x1="793.5" y1="90" x2="793.5" y2="130" stroke="#2a8f7f" stroke-width="1"/>
<rect x="791.5" y="104.5" width="4" height="15" fill="#066a12" stroke="#2aa692" stroke-width="1"/>
<line x1="801.5" y1="100" x2="801.5" y2="111" stroke="#2a8f7f" stroke-width="1"/>
<rect x="799" y="102" width="5" height="2" fill="#26a69a"/>
<line x1="809.5" y1="74" x2="809.5" y2="104" stroke="#2a8f7f" stroke-width="1"/>
<rect x="807.5" y="94.5" width="4" height="9" fill="#46ae5b" stroke="#2fa88c" stroke-width="1"/>
<line x1="817.5" y1="70" x2="817.5" y2="96" stroke="#2a8f7f" stroke-width="1"/>
<rect x="815.5" y="83.5" width="4" height="11" fill="#46ae5b" stroke="#2fa88c" stroke-width="1"/>
<line x1="825.5" y1="78" x2="825.5" y2="119" stroke="#d04652" stroke-width="1"/>
<rect x="823.5" y="82.5" width="4" height="31" fill="#f7525f" stroke="#f7525f" stroke-width="1"/>
<line x1="833.5" y1="88" x2="833.5" y2="114" stroke="#2a8f7f" stroke-width="1"/>
<rect x="831.5" y="95.5" width="4" height="18" fill="#46ae5b" stroke="#2fa88c" stroke-width="1"/>
<line x1="841.5" y1="91" x2="841.5" y2="125" stroke="#d04652" stroke-width="1"/>
<rect x="839.5" y="95.5" width="4" height="15" fill="#f7525f" stroke="#f7525f" stroke-width="1"/>
<line x1="849.5" y1="102" x2="849.5" y2="218" stroke="#d04652" stroke-width="1"/>
<rect x="847.5" y="110.5" width="4" height="77" fill="#960000" stroke="#f04a58" stroke-width="1"/>
<line x1="857.5" y1="184" x2="857.5" y2="218" stroke="#d04652" stroke-width="1"/>
<rect x="855.5" y="188.5" width="4" height="21" fill="#f7525f" stroke="#f7525f" stroke-width="1"/>
<line x1="865.5" y1="164" x2="865.5" y2="217" stroke="#2a8f7f" stroke-width="1"/>
<rect x="863.5" y="170.5" width="4" height="37" fill="#46ae5b" stroke="#2fa88c" stroke-width="1"/>
<line x1="873.5" y1="162" x2="873.5" y2="182" stroke="#2a8f7f" stroke-width="1"/>
<rect x="871.5" y="168.5" width="4" height="1" fill="#46ae5b" stroke="#2fa88c" stroke-width="1"/>
<line x1="881.5" y1="166" x2="881.5" y2="215" stroke="#d04652" stroke-width="1"/>
<rect x="879.5" y="168.5" width="4" height="20" fill="#f7525f" stroke="#f7525f" stroke-width="1"/>
<line x1="889.5" y1="182" x2="889.5" y2="212" stroke="#d04652" stroke-width="1"/>
<rect x="887.5" y="188.5" width="4" height="20" fill="#f7525f" stroke="#f7525f" stroke-width="1"/>
<line x1="897.5" y1="198" x2="897.5" y2="238" stroke="#d04652" stroke-width="1"/>
<rect x="895.5" y="208.5" width="4" height="23" fill="#f7525f" stroke="#f7525f" stroke-width="1"/>
<line x1="905.5" y1="221" x2="905.5" y2="274" stroke="#d04652" stroke-width="1"/>
<rect x="903.5" y="232.5" width="4" height="15" fill="#960000" stroke="#f04a58" stroke-width="1"/>
<line x1="913.5" y1="238" x2="913.5" y2="249" stroke="#2a8f7f" stroke-width="1"/>
<rect x="911.5" y="240.5" width="4" height="7" fill="#7fffd4" stroke="#2fb09a" stroke-width="1"/>
<line x1="921.5" y1="220" x2="921.5" y2="250" stroke="#2a8f7f" stroke-width="1"/>
<rect x="919.5" y="227.5" width="4" height="13" fill="#46ae5b" stroke="#2fa88c" stroke-width="1"/>
<line x1="929.5" y1="200" x2="929.5" y2="238" stroke="#2a8f7f" stroke-width="1"/>
<rect x="927.5" y="210.5" width="4" height="17" fill="#46ae5b" stroke="#2fa88c" stroke-width="1"/>
<line x1="937.5" y1="179" x2="937.5" y2="238" stroke="#d04652" stroke-width="1"/>
<rect x="935.5" y="210.5" width="4" height="19" fill="#960000" stroke="#f04a58" stroke-width="1"/>
<line x1="945.5" y1="223" x2="945.5" y2="250" stroke="#d04652" stroke-width="1"/>
<rect x="943.5" y="230.5" width="4" height="7" fill="#f7525f" stroke="#f7525f" stroke-width="1"/>
<line x1="953.5" y1="203" x2="953.5" y2="238" stroke="#2a8f7f" stroke-width="1"/>
<rect x="951.5" y="214.5" width="4" height="23" fill="#46ae5b" stroke="#2fa88c" stroke-width="1"/>
<line x1="961.5" y1="198" x2="961.5" y2="218" stroke="#2a8f7f" stroke-width="1"/>
<rect x="959.5" y="206.5" width="4" height="7" fill="#7fffd4" stroke="#2fb09a" stroke-width="1"/>
<line x1="969.5" y1="198" x2="969.5" y2="209" stroke="#2a8f7f" stroke-width="1"/>
<rect x="967.5" y="200.5" width="4" height="6" fill="#7fffd4" stroke="#2fb09a" stroke-width="1"/>
<line x1="977.5" y1="166" x2="977.5" y2="204" stroke="#2a8f7f" stroke-width="1"/>
<rect x="975.5" y="174.5" width="4" height="26" fill="#7fffd4" stroke="#2fb09a" stroke-width="1"/>
<line x1="985.5" y1="158" x2="985.5" y2="181" stroke="#d04652" stroke-width="1"/>
<rect x="983.5" y="174.5" width="4" height="4" fill="#f7525f" stroke="#f7525f" stroke-width="1"/>
<line x1="993.5" y1="161" x2="993.5" y2="195" stroke="#d04652" stroke-width="1"/>
<rect x="991.5" y="179.5" width="4" height="10" fill="#ff9800" stroke="#f04a58" stroke-width="1"/>
<line x1="1001.5" y1="182" x2="1001.5" y2="222" stroke="#d04652" stroke-width="1"/>
<rect x="999.5" y="189.5" width="4" height="26" fill="#f7525f" stroke="#f7525f" stroke-width="1"/>
<line x1="1009.5" y1="201" x2="1009.5" y2="249" stroke="#d04652" stroke-width="1"/>
<rect x="1007.5" y="215.5" width="4" height="16" fill="#f7525f" stroke="#f7525f" stroke-width="1"/>
<line x1="1017.5" y1="206" x2="1017.5" y2="232" stroke="#2a8f7f" stroke-width="1"/>
<rect x="1015.5" y="219.5" width="4" height="12" fill="#46ae5b" stroke="#2fa88c" stroke-width="1"/>
<line x1="1025.5" y1="210" x2="1025.5" y2="220" stroke="#2a8f7f" stroke-width="1"/>
<rect x="1023.5" y="215.5" width="4" height="4" fill="#7fffd4" stroke="#2fb09a" stroke-width="1"/>
<line x1="1033.5" y1="210" x2="1033.5" y2="220" stroke="#2a8f7f" stroke-width="1"/>
<rect x="1031.5" y="211.5" width="4" height="4" fill="#7fffd4" stroke="#2fb09a" stroke-width="1"/>
<line x1="1041.5" y1="209" x2="1041.5" y2="258" stroke="#d04652" stroke-width="1"/>
<rect x="1039.5" y="211.5" width="4" height="35" fill="#f7525f" stroke="#f7525f" stroke-width="1"/>
<line x1="1049.5" y1="240" x2="1049.5" y2="316" stroke="#d04652" stroke-width="1"/>
<rect x="1047.5" y="247.5" width="4" height="44" fill="#960000" stroke="#f04a58" stroke-width="1"/>
<line x1="1057.5" y1="265" x2="1057.5" y2="314" stroke="#2a8f7f" stroke-width="1"/>
<rect x="1055.5" y="272.5" width="4" height="19" fill="#46ae5b" stroke="#2fa88c" stroke-width="1"/>
<line x1="1065.5" y1="268" x2="1065.5" y2="302" stroke="#d04652" stroke-width="1"/>
<rect x="1063.5" y="272.5" width="4" height="21" fill="#f7525f" stroke="#f7525f" stroke-width="1"/>
<line x1="1073.5" y1="269" x2="1073.5" y2="312" stroke="#2a8f7f" stroke-width="1"/>
<rect x="1071.5" y="276.5" width="4" height="17" fill="#46ae5b" stroke="#2fa88c" stroke-width="1"/>
<line x1="1081.5" y1="275" x2="1081.5" y2="292" stroke="#d04652" stroke-width="1"/>
<rect x="1079.5" y="276.5" width="4" height="8" fill="#ff9800" stroke="#f04a58" stroke-width="1"/>
<line x1="1088.5" y1="258" x2="1088.5" y2="292" stroke="#2a8f7f" stroke-width="1"/>
<rect x="1086.5" y="263.5" width="4" height="21" fill="#46ae5b" stroke="#2fa88c" stroke-width="1"/>
<line x1="1096.5" y1="246" x2="1096.5" y2="267" stroke="#2a8f7f" stroke-width="1"/>
<rect x="1094.5" y="252.5" width="4" height="11" fill="#46ae5b" stroke="#2fa88c" stroke-width="1"/>
<line x1="1104.5" y1="238" x2="1104.5" y2="284" stroke="#d04652" stroke-width="1"/>
<rect x="1102.5" y="252.5" width="4" height="25" fill="#f7525f" stroke="#f7525f" stroke-width="1"/>
<line x1="1112.5" y1="258" x2="1112.5" y2="298" stroke="#d04652" stroke-width="1"/>
<rect x="1110.5" y="278.5" width="4" height="13" fill="#f7525f" stroke="#f7525f" stroke-width="1"/>
<line x1="1120.5" y1="270" x2="1120.5" y2="324" stroke="#d04652" stroke-width="1"/>
<rect x="1118.5" y="292.5" width="4" height="16" fill="#960000" stroke="#f04a58" stroke-width="1"/>
<line x1="1128.5" y1="307" x2="1128.5" y2="360" stroke="#d04652" stroke-width="1"/>
<rect x="1126.5" y="310.5" width="4" height="44" fill="#960000" stroke="#f04a58" stroke-width="1"/>
<line x1="1136.5" y1="335" x2="1136.5" y2="356" stroke="#2a8f7f" stroke-width="1"/>
<rect x="1134.5" y="346.5" width="4" height="8" fill="#46ae5b" stroke="#2fa88c" stroke-width="1"/>
<line x1="1144.5" y1="338" x2="1144.5" y2="369" stroke="#d04652" stroke-width="1"/>
<rect x="1142.5" y="346.5" width="4" height="12" fill="#f7525f" stroke="#f7525f" stroke-width="1"/>
<line x1="1152.5" y1="342" x2="1152.5" y2="385" stroke="#d04652" stroke-width="1"/>
<rect x="1150.5" y="358.5" width="4" height="19" fill="#f7525f" stroke="#f7525f" stroke-width="1"/>
<line x1="1160.5" y1="362" x2="1160.5" y2="402" stroke="#2a8f7f" stroke-width="1"/>
<rect x="1158.5" y="370.5" width="4" height="7" fill="#066a12" stroke="#2aa692" stroke-width="1"/>
<line x1="1168.5" y1="369" x2="1168.5" y2="408" stroke="#d04652" stroke-width="1"/>
<rect x="1166.5" y="370.5" width="4" height="12" fill="#f7525f" stroke="#f7525f" stroke-width="1"/>
<line x1="1176.5" y1="368" x2="1176.5" y2="432" stroke="#d04652" stroke-width="1"/>
<rect x="1174.5" y="383.5" width="4" height="44" fill="#960000" stroke="#f04a58" stroke-width="1"/>
<line x1="1184.5" y1="419" x2="1184.5" y2="480" stroke="#d04652" stroke-width="1"/>
<rect x="1182.5" y="428.5" width="4" height="11" fill="#960000" stroke="#f04a58" stroke-width="1"/>
<line x1="1192.5" y1="436" x2="1192.5" y2="454" stroke="#d04652" stroke-width="1"/>
<rect x="1190.5" y="440.5" width="4" height="3" fill="#f7525f" stroke="#f7525f" stroke-width="1"/>
<line x1="1200.5" y1="425" x2="1200.5" y2="444" stroke="#2a8f7f" stroke-width="1"/>
<rect x="1198.5" y="432.5" width="4" height="11" fill="#7fffd4" stroke="#2fb09a" stroke-width="1"/>
<line x1="5" y1="432.5" x2="1503" y2="432.5" stroke="#8fe8c4" stroke-width="1" stroke-dasharray="1 2"/>
<polyline points="1215.3,431.4 1232.3,400.9 1288.4,525.5 1352.6,427.8" fill="none" stroke="#2962ff" stroke-width="2" stroke-linejoin="miter"/>
<polyline points="1338.3,429.6 1352.8,427.5 1356,441.5" fill="none" stroke="#2962ff" stroke-width="2"/>
<g stroke="#fff" stroke-width="2" fill="none" stroke-linecap="round"><line x1="1405" y1="297.3" x2="1385.3" y2="320.3"/><polyline points="1385.3,311.5 1385,320.7 1393.6,319.6"/><line x1="1432.3" y1="301.7" x2="1399.3" y2="381"/><polyline points="1396.5,373.3 1399,381.7 1406.2,378.8"/></g>
<g><circle cx="1200.6" cy="511.5" r="10" fill="#151515" stroke="#b042d0" stroke-width="1.3"/><path d="M1202.5 505.5 L1196.3 512.6 L1200.3 512.6 L1198 517.5 L1204.6 510.2 L1200.6 510.2 Z" fill="#c050e0"/><circle cx="1207.4" cy="504.4" r="4" fill="#000"/><circle cx="1207.4" cy="504.4" r="2.8" fill="#f23645"/></g>
<rect x="0" y="524" width="1616" height="315" fill="#000"/>
<rect x="5" y="561.5" width="1548" height="87" fill="#0e0a17"/>
<line x1="5" y1="583.5" x2="1553" y2="583.5" stroke="rgba(240,243,250,0.075)" stroke-width="1"/>
<line x1="5" y1="626.5" x2="1553" y2="626.5" stroke="rgba(240,243,250,0.075)" stroke-width="1"/>
<line x1="5" y1="539.5" x2="1553" y2="539.5" stroke="rgba(240,243,250,0.075)" stroke-width="1"/>
<line x1="5" y1="670.5" x2="1553" y2="670.5" stroke="rgba(240,243,250,0.075)" stroke-width="1"/>
<line x1="5" y1="694.5" x2="1553" y2="694.5" stroke="rgba(240,243,250,0.075)" stroke-width="1"/>
<line x1="5" y1="780.5" x2="1553" y2="780.5" stroke="rgba(240,243,250,0.075)" stroke-width="1"/>
<line x1="42.5" y1="524" x2="42.5" y2="802" stroke="rgba(240,243,250,0.075)" stroke-width="1"/>
<line x1="290.5" y1="524" x2="290.5" y2="802" stroke="rgba(240,243,250,0.075)" stroke-width="1"/>
<line x1="537.5" y1="524" x2="537.5" y2="802" stroke="rgba(240,243,250,0.075)" stroke-width="1"/>
<line x1="777.5" y1="524" x2="777.5" y2="802" stroke="rgba(240,243,250,0.075)" stroke-width="1"/>
<line x1="1025.5" y1="524" x2="1025.5" y2="802" stroke="rgba(240,243,250,0.075)" stroke-width="1"/>
<line x1="1264.5" y1="524" x2="1264.5" y2="802" stroke="rgba(240,243,250,0.075)" stroke-width="1"/>
<line x1="1512.5" y1="524" x2="1512.5" y2="802" stroke="rgba(240,243,250,0.075)" stroke-width="1"/>
<polygon points="5.0,573.0 17.5,572.6 30.0,576.3 42.0,580.6 58.0,576.3 75.0,574.3 98.0,571.8 106.0,569.3 114.0,563.8 122.0,559.5 130.0,556.8 138.0,552.0 146.0,547.5 154.0,544.5 170.0,541.3 186.0,540.0 202.0,542.0 218.0,542.0 234.0,543.3 250.0,545.5 266.0,545.5 282.0,544.5 290.0,542.0 298.0,541.8 306.0,546.3 322.0,550.0 330.0,553.3 346.0,556.3 362.0,559.5 370.0,563.8 378.0,564.5 386.0,562.0 394.0,563.0 400.0,563.8 410.0,567.6 425.0,570.0 445.0,570.0 470.0,570.6 487.5,568.8 500.0,570.0 512.5,570.8 530.0,577.6 537.5,583.8 545.0,593.8 560.0,598.0 575.0,602.6 585.0,603.8 600.0,600.8 610.0,596.3 625.0,588.8 640.0,581.3 655.0,575.0 670.0,570.0 680.0,569.6 700.0,571.3 720.0,570.8 735.0,567.6 750.0,566.3 770.0,565.6 783.0,562.6 795.0,556.3 800.0,555.0 807.5,550.0 817.5,544.5 835.0,543.0 860.0,542.0 890.0,543.0 912.5,541.3 927.5,541.3 937.5,543.8 947.5,548.8 960.0,558.8 970.0,570.0 976.5,577.6 985.0,582.0 1000.0,595.0 1025.0,595.6 1040.0,595.6 1050.0,593.8 1075.0,594.3 1100.0,593.3 1128.0,594.3 1138.0,598.8 1150.0,604.6 1163.0,606.4 1175.0,607.0 1183.0,608.9 1193.0,611.9 1200.0,613.0 1200.0,668.4 1185.0,664.6 1175.0,661.4 1165.0,656.4 1150.0,652.6 1138.0,650.0 1128.0,648.9 1115.0,644.6 1100.0,642.0 1075.0,643.4 1050.0,643.0 1040.0,640.0 1032.5,639.4 1017.5,639.4 1000.0,640.6 985.0,647.6 977.5,650.0 970.0,655.0 957.5,658.9 945.0,660.0 935.0,657.6 920.0,653.9 900.0,647.6 887.5,646.4 872.5,647.6 857.5,648.9 840.0,642.6 815.0,642.0 800.0,639.7 790.0,638.0 775.0,635.0 760.0,634.6 745.0,635.0 730.0,630.0 720.0,625.6 710.0,626.4 695.0,625.0 680.0,632.6 665.0,639.4 645.0,640.6 632.5,642.0 625.0,640.0 610.0,636.4 600.0,634.6 580.0,635.0 560.0,637.0 545.0,638.9 536.5,645.6 530.0,646.4 512.5,642.6 500.0,638.9 485.0,635.0 470.0,630.9 460.0,630.6 450.0,634.4 435.0,632.6 420.0,628.0 404.0,627.3 394.0,626.8 378.0,625.0 370.0,625.6 354.0,627.0 338.0,627.0 322.0,625.8 306.0,621.3 298.0,618.8 290.0,611.3 282.0,601.3 274.0,595.0 266.0,592.6 258.0,590.6 250.0,591.3 242.0,594.6 234.0,595.8 218.0,600.0 202.0,603.8 194.0,607.6 178.0,610.0 162.0,612.6 146.0,615.0 130.0,614.6 122.0,619.6 114.0,621.8 98.0,623.4 82.0,625.0 58.0,625.8 42.5,624.6 32.5,625.0 20.0,627.0 5.0,627.6" fill="rgba(100,200,90,0.125)"/>
<line x1="5" y1="561.5" x2="1553" y2="561.5" stroke="#dc3a46" stroke-width="1" stroke-dasharray="5.5 5.5"/>
<line x1="5" y1="648.5" x2="1553" y2="648.5" stroke="#4caf50" stroke-width="1" stroke-dasharray="5.5 5.5"/>
<line x1="5" y1="604.5" x2="1553" y2="604.5" stroke="#ffffff" stroke-width="1.1" stroke-dasharray="5.5 5.5"/>
<polyline points="5.0,573.0 17.5,572.6 30.0,576.3 42.0,580.6 58.0,576.3 75.0,574.3 98.0,571.8 106.0,569.3 114.0,563.8 122.0,559.5 130.0,556.8 138.0,552.0 146.0,547.5 154.0,544.5 170.0,541.3 186.0,540.0 202.0,542.0 218.0,542.0 234.0,543.3 250.0,545.5 266.0,545.5 282.0,544.5 290.0,542.0 298.0,541.8 306.0,546.3 322.0,550.0 330.0,553.3 346.0,556.3 362.0,559.5 370.0,563.8 378.0,564.5 386.0,562.0 394.0,563.0 400.0,563.8 410.0,567.6 425.0,570.0 445.0,570.0 470.0,570.6 487.5,568.8 500.0,570.0 512.5,570.8 530.0,577.6 537.5,583.8 545.0,593.8 560.0,598.0 575.0,602.6 585.0,603.8 600.0,600.8 610.0,596.3 625.0,588.8 640.0,581.3 655.0,575.0 670.0,570.0 680.0,569.6 700.0,571.3 720.0,570.8 735.0,567.6 750.0,566.3 770.0,565.6 783.0,562.6 795.0,556.3 800.0,555.0 807.5,550.0 817.5,544.5 835.0,543.0 860.0,542.0 890.0,543.0 912.5,541.3 927.5,541.3 937.5,543.8 947.5,548.8 960.0,558.8 970.0,570.0 976.5,577.6 985.0,582.0 1000.0,595.0 1025.0,595.6 1040.0,595.6 1050.0,593.8 1075.0,594.3 1100.0,593.3 1128.0,594.3 1138.0,598.8 1150.0,604.6 1163.0,606.4 1175.0,607.0 1183.0,608.9 1193.0,611.9 1200.0,613.0" fill="none" stroke="#11879a" stroke-width="1" stroke-linejoin="round"/>
<polyline points="5.0,627.6 20.0,627.0 32.5,625.0 42.5,624.6 58.0,625.8 82.0,625.0 98.0,623.4 114.0,621.8 122.0,619.6 130.0,614.6 146.0,615.0 162.0,612.6 178.0,610.0 194.0,607.6 202.0,603.8 218.0,600.0 234.0,595.8 242.0,594.6 250.0,591.3 258.0,590.6 266.0,592.6 274.0,595.0 282.0,601.3 290.0,611.3 298.0,618.8 306.0,621.3 322.0,625.8 338.0,627.0 354.0,627.0 370.0,625.6 378.0,625.0 394.0,626.8 404.0,627.3 420.0,628.0 435.0,632.6 450.0,634.4 460.0,630.6 470.0,630.9 485.0,635.0 500.0,638.9 512.5,642.6 530.0,646.4 536.5,645.6 545.0,638.9 560.0,637.0 580.0,635.0 600.0,634.6 610.0,636.4 625.0,640.0 632.5,642.0 645.0,640.6 665.0,639.4 680.0,632.6 695.0,625.0 710.0,626.4 720.0,625.6 730.0,630.0 745.0,635.0 760.0,634.6 775.0,635.0 790.0,638.0 800.0,639.7 815.0,642.0 840.0,642.6 857.5,648.9 872.5,647.6 887.5,646.4 900.0,647.6 920.0,653.9 935.0,657.6 945.0,660.0 957.5,658.9 970.0,655.0 977.5,650.0 985.0,647.6 1000.0,640.6 1017.5,639.4 1032.5,639.4 1040.0,640.0 1050.0,643.0 1075.0,643.4 1100.0,642.0 1115.0,644.6 1128.0,648.9 1138.0,650.0 1150.0,652.6 1165.0,656.4 1175.0,661.4 1185.0,664.6 1200.0,668.4" fill="none" stroke="#11879a" stroke-width="1" stroke-linejoin="round"/>
<path d="M5.0 600.0 C8.3 600.1 18.8 600.3 25.0 600.8 C31.2 601.3 36.2 603.0 42.5 603.0 C48.8 603.0 55.0 601.5 62.5 600.8 C70.0 600.1 80.4 599.6 87.5 598.8 C94.6 598.0 98.8 597.6 105.0 595.8 C111.2 594.0 118.3 590.4 125.0 588.0 C131.7 585.6 137.5 583.2 145.0 581.3 C152.5 579.3 161.7 577.7 170.0 576.3 C178.3 574.9 187.5 574.0 195.0 573.0 C202.5 572.0 207.5 571.1 215.0 570.5 C222.5 569.9 232.5 569.6 240.0 569.3 C247.5 569.0 255.0 568.5 260.0 568.5 C265.0 568.5 265.8 568.5 270.0 569.5 C274.2 570.5 280.0 572.3 285.0 574.3 C290.0 576.3 295.0 579.4 300.0 581.3 C305.0 583.2 310.0 584.4 315.0 585.8 C320.0 587.2 324.2 588.5 330.0 589.6 C335.8 590.7 343.3 591.8 350.0 592.6 C356.7 593.4 363.3 594.0 370.0 594.3 C376.7 594.6 384.3 594.4 390.0 594.6 C395.7 594.9 399.0 595.0 404.0 595.8 C409.0 596.6 414.0 598.6 420.0 599.6 C426.0 600.6 433.3 601.5 440.0 601.6 C446.7 601.7 453.3 600.0 460.0 600.0 C466.7 600.0 473.3 600.6 480.0 601.3 C486.7 602.0 493.3 602.9 500.0 604.3 C506.7 605.7 513.3 607.9 520.0 609.6 C526.7 611.3 533.3 613.3 540.0 614.6 C546.7 615.9 553.3 616.8 560.0 617.6 C566.7 618.4 573.3 619.5 580.0 619.6 C586.7 619.7 593.3 618.8 600.0 618.0 C606.7 617.2 613.3 616.2 620.0 615.0 C626.7 613.8 633.3 612.1 640.0 610.6 C646.7 609.1 653.3 607.6 660.0 605.8 C666.7 604.0 674.2 601.4 680.0 600.0 C685.8 598.6 689.2 597.9 695.0 597.6 C700.8 597.3 708.3 598.0 715.0 598.3 C721.7 598.6 728.3 599.3 735.0 599.6 C741.7 599.9 748.3 600.0 755.0 600.0 C761.7 600.0 769.2 599.7 775.0 599.3 C780.8 598.9 785.2 598.2 790.0 597.6 C794.8 597.0 799.4 596.4 804.0 595.8 C808.6 595.2 811.5 594.3 817.5 593.8 C823.5 593.3 833.3 592.3 840.0 592.6 C846.7 592.9 851.7 595.2 857.5 595.6 C863.3 596.0 868.8 595.2 875.0 595.0 C881.2 594.8 889.2 594.5 895.0 594.6 C900.8 594.7 904.2 595.0 910.0 595.8 C915.8 596.6 923.3 597.6 930.0 599.3 C936.7 601.0 942.5 603.5 950.0 605.8 C957.5 608.1 966.7 611.0 975.0 613.0 C983.3 615.0 991.7 616.8 1000.0 617.6 C1008.3 618.4 1016.7 617.4 1025.0 617.6 C1033.3 617.8 1041.7 618.7 1050.0 618.9 C1058.3 619.1 1066.7 618.7 1075.0 618.6 C1083.3 618.5 1092.5 618.1 1100.0 618.4 C1107.5 618.7 1114.2 619.6 1120.0 620.6 C1125.8 621.6 1130.0 623.2 1135.0 624.4 C1140.0 625.6 1144.2 626.8 1150.0 628.0 C1155.8 629.2 1164.2 630.5 1170.0 631.9 C1175.8 633.3 1180.0 634.9 1185.0 636.4 C1190.0 637.9 1197.5 639.9 1200.0 640.6" fill="none" stroke="#f88a10" stroke-width="1.3"/>
<polyline points="4.0,593.5 10.9,593.0 18.9,591.3 26.8,584.6 34.8,593.8 42.8,603.8 50.8,586.3 58.8,582.6 66.8,593.8 74.8,592.6 82.8,586.8 90.7,593.8 98.7,590.0 106.7,576.3 114.7,557.5 122.7,553.8 130.7,555.0 138.7,549.5 146.6,547.5 154.6,565.0 162.6,562.0 170.6,560.0 178.6,570.6 186.6,571.3 194.6,575.8 202.5,575.8 210.5,563.8 218.5,573.8 226.5,578.0 234.5,584.3 242.5,582.6 250.5,573.8 258.4,586.3 266.4,587.0 274.4,588.0 282.4,603.8 290.4,621.4 298.4,626.4 306.4,612.6 314.3,607.0 322.3,613.0 330.3,606.4 338.3,590.6 346.3,596.3 354.3,597.6 362.3,581.3 370.2,585.8 378.2,577.6 386.2,563.3 394.2,597.6 402.2,602.0 410.2,602.0 418.2,601.8 426.1,609.6 434.1,625.6 442.1,617.0 450.1,625.0 458.1,601.3 466.1,608.8 474.1,616.4 482.0,628.9 490.0,620.9 498.0,622.6 506.0,615.6 514.0,631.4 522.0,628.9 530.0,630.9 538.0,625.0 545.9,613.9 553.9,611.4 561.9,615.9 569.9,615.9 577.9,618.0 585.9,612.6 593.9,606.4 601.8,609.6 609.8,593.8 617.8,586.3 625.8,583.8 633.8,584.6 641.8,589.6 649.8,589.3 657.7,580.8 665.7,583.8 673.7,580.0 681.7,592.6 689.7,592.0 697.7,597.0 705.7,616.4 713.6,620.9 721.6,610.0 729.6,634.4 737.6,628.9 745.6,629.4 753.6,610.0 761.6,597.0 769.5,598.8 777.5,575.8 785.5,568.8 793.5,563.0 801.5,562.0 809.5,558.3 817.5,554.5 825.4,578.8 833.4,571.8 841.4,582.6 849.4,620.9 857.4,628.4 865.4,610.0 873.4,609.6 881.4,617.0 889.3,624.6 897.3,632.0 905.3,636.9 913.3,633.0 921.3,625.0 929.3,616.9 937.3,624.6 945.2,627.0 953.2,615.0 961.2,610.9 969.2,607.6 977.2,595.6 985.2,597.6 993.2,603.3 1001.1,615.0 1009.1,622.0 1017.1,616.4 1025.1,613.4 1033.1,610.9 1041.1,627.0 1049.1,643.0 1057.0,630.6 1065.0,638.0 1073.0,627.6 1081.0,630.9 1089.0,619.6 1097.0,613.9 1105.0,624.4 1112.9,628.9 1120.9,635.0 1128.9,647.6 1136.9,642.0 1144.9,645.0 1152.9,649.4 1160.9,645.9 1168.8,649.4 1176.8,660.0 1184.8,662.6 1192.8,663.0 1200.8,654.6" fill="none" stroke="#b23ecb" stroke-width="2" stroke-linejoin="round"/>
<line x1="5" y1="727.5" x2="1553" y2="727.5" stroke="#9598a1" stroke-width="1" stroke-dasharray="5.5 5.5"/>
<polyline points="4.0,723.3 10.9,723.8 18.9,725.0 26.8,726.3 34.8,725.5 42.8,720.8 50.8,725.8 58.8,727.5 66.8,724.3 74.8,724.5 82.8,726.3 90.7,727.5 98.7,728.8 106.7,732.5 114.7,736.8 122.7,738.8 130.7,739.5 138.7,740.8 146.6,742.5 154.6,731.3 162.6,733.0 170.6,735.5 178.6,735.5 186.6,736.3 194.6,734.3 202.5,736.3 210.5,738.8 218.5,740.0 226.5,740.5 234.5,731.8 242.5,732.5 250.5,733.8 258.4,733.5 266.4,733.0 274.4,730.5 282.4,730.8 290.4,722.0 298.4,721.3 306.4,723.8 314.3,725.5 322.3,721.3 330.3,723.8 338.3,726.3 346.3,728.3 354.3,730.0 362.3,732.5 370.2,735.5 378.2,737.0 386.2,739.5 394.2,736.3 402.2,736.3 410.2,736.8 418.2,737.5 426.1,728.8 434.1,723.8 442.1,724.5 450.1,725.0 458.1,730.0 466.1,731.3 474.1,720.0 482.0,718.8 490.0,720.0 498.0,722.5 506.0,724.5 514.0,716.3 522.0,717.5 530.0,718.8 538.0,718.3 545.9,721.3 553.9,723.3 561.9,721.3 569.9,723.8 577.9,724.5 585.9,725.8 593.9,728.0 601.8,730.0 609.8,732.5 617.8,734.3 625.8,735.5 633.8,736.3 641.8,736.8 649.8,734.5 657.7,736.3 665.7,738.3 673.7,739.5 681.7,736.3 689.7,736.3 697.7,735.5 705.7,721.3 713.6,720.5 721.6,724.5 729.6,717.5 737.6,719.3 745.6,720.5 753.6,724.5 761.6,727.5 769.5,729.5 777.5,733.3 785.5,735.5 793.5,738.3 801.5,739.5 809.5,740.8 817.5,742.5 825.4,733.8 833.4,736.3 841.4,732.5 849.4,707.5 857.4,711.3 865.4,717.0 873.4,718.8 881.4,711.3 889.3,714.5 897.3,710.0 905.3,703.3 913.3,704.5 921.3,708.0 929.3,712.5 937.3,718.0 945.2,716.3 953.2,719.5 961.2,720.8 969.2,722.0 977.2,725.0 985.2,726.8 993.2,723.8 1001.1,717.5 1009.1,712.5 1017.1,715.0 1025.1,716.3 1033.1,718.0 1041.1,708.8 1049.1,696.8 1057.0,703.3 1065.0,707.0 1073.0,708.8 1081.0,710.5 1089.0,714.3 1097.0,716.3 1105.0,715.0 1112.9,713.3 1120.9,710.0 1128.9,703.8 1136.9,706.3 1144.9,705.0 1152.9,704.3 1160.9,703.3 1168.8,705.5 1176.8,705.0 1184.8,697.0 1192.8,699.3 1200.8,701.8" fill="none" stroke="#ef5350" stroke-width="1.1" stroke-linejoin="round"/>
<polyline points="4.0,726.5 10.9,727.0 18.9,728.3 26.8,726.3 34.8,727.0 42.8,729.5 50.8,723.3 58.8,721.8 66.8,724.3 74.8,724.3 82.8,720.5 90.7,723.0 98.7,725.0 106.7,715.8 114.7,702.0 122.7,699.5 130.7,701.3 138.7,699.3 146.6,690.5 154.6,697.0 162.6,701.3 170.6,702.5 178.6,708.0 186.6,710.0 194.6,712.5 202.5,713.0 210.5,715.0 218.5,718.0 226.5,720.5 234.5,724.3 242.5,725.5 250.5,720.8 258.4,723.0 266.4,725.5 274.4,728.0 282.4,731.3 290.4,733.3 298.4,734.5 306.4,733.3 314.3,730.5 322.3,732.5 330.3,731.3 338.3,725.5 346.3,726.8 354.3,726.8 362.3,723.3 370.2,714.5 378.2,717.0 386.2,708.3 394.2,716.8 402.2,718.8 410.2,719.5 418.2,718.8 426.1,722.0 434.1,725.8 442.1,727.5 450.1,729.5 458.1,723.8 466.1,725.8 474.1,729.5 482.0,732.0 490.0,734.3 498.0,734.5 506.0,733.3 514.0,736.3 522.0,737.0 530.0,735.5 538.0,737.0 545.9,731.3 553.9,729.5 561.9,731.8 569.9,729.5 577.9,730.5 585.9,730.0 593.9,726.3 601.8,727.0 609.8,725.0 617.8,721.8 625.8,718.3 633.8,719.5 641.8,720.8 649.8,723.3 657.7,724.5 665.7,725.8 673.7,725.0 681.7,727.0 689.7,727.5 697.7,728.3 705.7,731.3 713.6,733.3 721.6,732.5 729.6,736.3 737.6,737.5 745.6,738.0 753.6,727.5 761.6,719.5 769.5,720.0 777.5,707.5 785.5,700.5 793.5,695.5 801.5,697.5 809.5,691.3 817.5,694.5 825.4,702.5 833.4,707.0 841.4,712.0 849.4,723.8 857.4,726.8 865.4,722.5 873.4,723.8 881.4,727.0 889.3,729.5 897.3,732.0 905.3,735.0 913.3,735.5 921.3,730.8 929.3,726.3 937.3,723.3 945.2,725.5 953.2,721.3 961.2,720.5 969.2,721.3 977.2,713.3 985.2,712.5 993.2,715.8 1001.1,719.5 1009.1,723.8 1017.1,725.8 1025.1,727.0 1033.1,725.5 1041.1,728.8 1049.1,733.8 1057.0,736.3 1065.0,738.0 1073.0,740.0 1081.0,740.8 1089.0,735.5 1097.0,733.0 1105.0,735.5 1112.9,737.5 1120.9,740.0 1128.9,741.8 1136.9,742.5 1144.9,743.8 1152.9,745.0 1160.9,746.3 1168.8,747.0 1176.8,748.8 1184.8,750.0 1192.8,750.5 1200.8,746.8" fill="none" stroke="#4caf50" stroke-width="1.1" stroke-linejoin="round"/>
<circle cx="10.9" cy="780.5" r="3.6" fill="#363a45"/>
<circle cx="18.9" cy="780.5" r="3.6" fill="#363a45"/>
<circle cx="26.8" cy="780.5" r="3.6" fill="#363a45"/>
<circle cx="34.8" cy="780.5" r="3.6" fill="#363a45"/>
<circle cx="42.8" cy="780.5" r="3.6" fill="#363a45"/>
<circle cx="50.8" cy="780.5" r="3.6" fill="#ff5252"/>
<circle cx="58.8" cy="780.5" r="3.6" fill="#363a45"/>
<circle cx="66.8" cy="780.5" r="3.6" fill="#363a45"/>
<circle cx="74.8" cy="780.5" r="3.6" fill="#363a45"/>
<circle cx="82.8" cy="780.5" r="3.6" fill="#363a45"/>
<circle cx="90.7" cy="780.5" r="3.6" fill="#363a45"/>
<circle cx="98.7" cy="780.5" r="3.6" fill="#363a45"/>
<circle cx="106.7" cy="780.5" r="3.6" fill="#363a45"/>
<circle cx="114.7" cy="780.5" r="3.6" fill="#4caf50"/>
<circle cx="122.7" cy="780.5" r="3.6" fill="#4caf50"/>
<circle cx="130.7" cy="780.5" r="3.6" fill="#4caf50"/>
<circle cx="138.7" cy="780.5" r="3.6" fill="#4caf50"/>
<circle cx="146.6" cy="780.5" r="3.6" fill="#4caf50"/>
<circle cx="154.6" cy="780.5" r="3.6" fill="#4caf50"/>
<circle cx="162.6" cy="780.5" r="3.6" fill="#4caf50"/>
<circle cx="170.6" cy="780.5" r="3.6" fill="#4caf50"/>
<circle cx="178.6" cy="780.5" r="3.6" fill="#4caf50"/>
<circle cx="186.6" cy="780.5" r="3.6" fill="#4caf50"/>
<circle cx="194.6" cy="780.5" r="3.6" fill="#4caf50"/>
<circle cx="202.5" cy="780.5" r="3.6" fill="#4caf50"/>
<circle cx="210.5" cy="780.5" r="3.6" fill="#4caf50"/>
<circle cx="218.5" cy="780.5" r="3.6" fill="#4caf50"/>
<circle cx="226.5" cy="780.5" r="3.6" fill="#4caf50"/>
<circle cx="234.5" cy="780.5" r="3.6" fill="#4caf50"/>
<circle cx="242.5" cy="780.5" r="3.6" fill="#4caf50"/>
<circle cx="250.5" cy="780.5" r="3.6" fill="#363a45"/>
<circle cx="258.4" cy="780.5" r="3.6" fill="#ff5252"/>
<circle cx="266.4" cy="780.5" r="3.6" fill="#ff9800"/>
<circle cx="274.4" cy="780.5" r="3.6" fill="#ff9800"/>
<circle cx="282.4" cy="780.5" r="3.6" fill="#ff9800"/>
<circle cx="290.4" cy="780.5" r="3.6" fill="#ff9800"/>
<circle cx="298.4" cy="780.5" r="3.6" fill="#ff5252"/>
<circle cx="306.4" cy="780.5" r="3.6" fill="#ff5252"/>
<circle cx="314.3" cy="780.5" r="3.6" fill="#ff5252"/>
<circle cx="322.3" cy="780.5" r="3.6" fill="#363a45"/>
<circle cx="330.3" cy="780.5" r="3.6" fill="#363a45"/>
<circle cx="338.3" cy="780.5" r="3.6" fill="#363a45"/>
<circle cx="346.3" cy="780.5" r="3.6" fill="#363a45"/>
<circle cx="354.3" cy="780.5" r="3.6" fill="#363a45"/>
<circle cx="362.3" cy="780.5" r="3.6" fill="#363a45"/>
<circle cx="370.2" cy="780.5" r="3.6" fill="#363a45"/>
<circle cx="378.2" cy="780.5" r="3.6" fill="#363a45"/>
<circle cx="386.2" cy="780.5" r="3.6" fill="#363a45"/>
<circle cx="394.2" cy="780.5" r="3.6" fill="#363a45"/>
<circle cx="402.2" cy="780.5" r="3.6" fill="#363a45"/>
<circle cx="410.2" cy="780.5" r="3.6" fill="#363a45"/>
<circle cx="418.2" cy="780.5" r="3.6" fill="#363a45"/>
<circle cx="426.1" cy="780.5" r="3.6" fill="#363a45"/>
<circle cx="434.1" cy="780.5" r="3.6" fill="#363a45"/>
<circle cx="442.1" cy="780.5" r="3.6" fill="#363a45"/>
<circle cx="450.1" cy="780.5" r="3.6" fill="#363a45"/>
<circle cx="458.1" cy="780.5" r="3.6" fill="#363a45"/>
<circle cx="466.1" cy="780.5" r="3.6" fill="#363a45"/>
<circle cx="474.1" cy="780.5" r="3.6" fill="#363a45"/>
<circle cx="482" cy="780.5" r="3.6" fill="#363a45"/>
<circle cx="490" cy="780.5" r="3.6" fill="#363a45"/>
<circle cx="498" cy="780.5" r="3.6" fill="#363a45"/>
<circle cx="506" cy="780.5" r="3.6" fill="#4caf50"/>
<circle cx="514" cy="780.5" r="3.6" fill="#4caf50"/>
<circle cx="522" cy="780.5" r="3.6" fill="#4caf50"/>
<circle cx="530" cy="780.5" r="3.6" fill="#4caf50"/>
<circle cx="538" cy="780.5" r="3.6" fill="#4caf50"/>
<circle cx="545.9" cy="780.5" r="3.6" fill="#4caf50"/>
<circle cx="553.9" cy="780.5" r="3.6" fill="#4caf50"/>
<circle cx="561.9" cy="780.5" r="3.6" fill="#363a45"/>
<circle cx="569.9" cy="780.5" r="3.6" fill="#363a45"/>
<circle cx="577.9" cy="780.5" r="3.6" fill="#363a45"/>
<circle cx="585.9" cy="780.5" r="3.6" fill="#ff5252"/>
<circle cx="593.9" cy="780.5" r="3.6" fill="#363a45"/>
<circle cx="601.8" cy="780.5" r="3.6" fill="#ff5252"/>
<circle cx="609.8" cy="780.5" r="3.6" fill="#ff5252"/>
<circle cx="617.8" cy="780.5" r="3.6" fill="#ff5252"/>
<circle cx="625.8" cy="780.5" r="3.6" fill="#363a45"/>
<circle cx="633.8" cy="780.5" r="3.6" fill="#363a45"/>
<circle cx="641.8" cy="780.5" r="3.6" fill="#363a45"/>
<circle cx="649.8" cy="780.5" r="3.6" fill="#4caf50"/>
<circle cx="657.7" cy="780.5" r="3.6" fill="#4caf50"/>
<circle cx="665.7" cy="780.5" r="3.6" fill="#4caf50"/>
<circle cx="673.7" cy="780.5" r="3.6" fill="#4caf50"/>
<circle cx="681.7" cy="780.5" r="3.6" fill="#4caf50"/>
<circle cx="689.7" cy="780.5" r="3.6" fill="#4caf50"/>
<circle cx="697.7" cy="780.5" r="3.6" fill="#4caf50"/>
<circle cx="705.7" cy="780.5" r="3.6" fill="#4caf50"/>
<circle cx="713.6" cy="780.5" r="3.6" fill="#4caf50"/>
<circle cx="721.6" cy="780.5" r="3.6" fill="#4caf50"/>
<circle cx="729.6" cy="780.5" r="3.6" fill="#4caf50"/>
<circle cx="737.6" cy="780.5" r="3.6" fill="#4caf50"/>
<circle cx="745.6" cy="780.5" r="3.6" fill="#4caf50"/>
<circle cx="753.6" cy="780.5" r="3.6" fill="#4caf50"/>
<circle cx="761.6" cy="780.5" r="3.6" fill="#4caf50"/>
<circle cx="769.5" cy="780.5" r="3.6" fill="#4caf50"/>
<circle cx="777.5" cy="780.5" r="3.6" fill="#4caf50"/>
<circle cx="785.5" cy="780.5" r="3.6" fill="#4caf50"/>
<circle cx="793.5" cy="780.5" r="3.6" fill="#4caf50"/>
<circle cx="801.5" cy="780.5" r="3.6" fill="#4caf50"/>
<circle cx="809.5" cy="780.5" r="3.6" fill="#4caf50"/>
<circle cx="817.5" cy="780.5" r="3.6" fill="#4caf50"/>
<circle cx="825.4" cy="780.5" r="3.6" fill="#4caf50"/>
<circle cx="833.4" cy="780.5" r="3.6" fill="#4caf50"/>
<circle cx="841.4" cy="780.5" r="3.6" fill="#4caf50"/>
<circle cx="849.4" cy="780.5" r="3.6" fill="#4caf50"/>
<circle cx="857.4" cy="780.5" r="3.6" fill="#4caf50"/>
<circle cx="865.4" cy="780.5" r="3.6" fill="#4caf50"/>
<circle cx="873.4" cy="780.5" r="3.6" fill="#4caf50"/>
<circle cx="881.4" cy="780.5" r="3.6" fill="#4caf50"/>
<circle cx="889.3" cy="780.5" r="3.6" fill="#4caf50"/>
<circle cx="897.3" cy="780.5" r="3.6" fill="#4caf50"/>
<circle cx="905.3" cy="780.5" r="3.6" fill="#4caf50"/>
<circle cx="913.3" cy="780.5" r="3.6" fill="#4caf50"/>
<circle cx="921.3" cy="780.5" r="3.6" fill="#4caf50"/>
<circle cx="929.3" cy="780.5" r="3.6" fill="#4caf50"/>
<circle cx="937.3" cy="780.5" r="3.6" fill="#4caf50"/>
<circle cx="945.2" cy="780.5" r="3.6" fill="#4caf50"/>
<circle cx="953.2" cy="780.5" r="3.6" fill="#4caf50"/>
<circle cx="961.2" cy="780.5" r="3.6" fill="#4caf50"/>
<circle cx="969.2" cy="780.5" r="3.6" fill="#4caf50"/>
<circle cx="977.2" cy="780.5" r="3.6" fill="#4caf50"/>
<circle cx="985.2" cy="780.5" r="3.6" fill="#4caf50"/>
<circle cx="993.2" cy="780.5" r="3.6" fill="#363a45"/>
<circle cx="1001.1" cy="780.5" r="3.6" fill="#ff5252"/>
<circle cx="1009.1" cy="780.5" r="3.6" fill="#ff5252"/>
<circle cx="1017.1" cy="780.5" r="3.6" fill="#ff5252"/>
<circle cx="1025.1" cy="780.5" r="3.6" fill="#ff5252"/>
<circle cx="1033.1" cy="780.5" r="3.6" fill="#ff5252"/>
<circle cx="1041.1" cy="780.5" r="3.6" fill="#ff5252"/>
<circle cx="1049.1" cy="780.5" r="3.6" fill="#363a45"/>
<circle cx="1057" cy="780.5" r="3.6" fill="#363a45"/>
<circle cx="1065" cy="780.5" r="3.6" fill="#363a45"/>
<circle cx="1073" cy="780.5" r="3.6" fill="#363a45"/>
<circle cx="1081" cy="780.5" r="3.6" fill="#4caf50"/>
<circle cx="1089" cy="780.5" r="3.6" fill="#4caf50"/>
<circle cx="1097" cy="780.5" r="3.6" fill="#4caf50"/>
<circle cx="1105" cy="780.5" r="3.6" fill="#4caf50"/>
<circle cx="1112.9" cy="780.5" r="3.6" fill="#4caf50"/>
<circle cx="1120.9" cy="780.5" r="3.6" fill="#4caf50"/>
<circle cx="1128.9" cy="780.5" r="3.6" fill="#4caf50"/>
<circle cx="1136.9" cy="780.5" r="3.6" fill="#4caf50"/>
<circle cx="1144.9" cy="780.5" r="3.6" fill="#4caf50"/>
<circle cx="1152.9" cy="780.5" r="3.6" fill="#4caf50"/>
<circle cx="1160.9" cy="780.5" r="3.6" fill="#4caf50"/>
<circle cx="1168.8" cy="780.5" r="3.6" fill="#4caf50"/>
<circle cx="1176.8" cy="780.5" r="3.6" fill="#4caf50"/>
<circle cx="1184.8" cy="780.5" r="3.6" fill="#4caf50"/>
<circle cx="1192.8" cy="780.5" r="3.6" fill="#4caf50"/>
<circle cx="1200.8" cy="780.5" r="3.6" fill="#4caf50"/>
<line x1="5" y1="524.5" x2="1616" y2="524.5" stroke="#3a3a3a" stroke-width="1"/>
<line x1="5" y1="682.5" x2="1616" y2="682.5" stroke="#3a3a3a" stroke-width="1"/>
<line x1="5" y1="757.5" x2="1616" y2="757.5" stroke="#3a3a3a" stroke-width="1"/>
<rect x="0" y="830" width="1616" height="9" fill="#131313"/>
<line x1="0" y1="830.5" x2="1616" y2="830.5" stroke="#2e2e2e" stroke-width="1"/>
<rect x="0" y="0" width="1" height="839" fill="#121212"/>
<rect x="1" y="0" width="3" height="839" fill="#2d2d2d"/>
<rect x="4" y="0" width="1" height="839" fill="#363838"/>
<rect x="21.5" y="772" width="26.5" height="17.2" fill="#000"/>
<g fill="#e4e4e4" stroke="#000" stroke-width="1.6" paint-order="stroke"><path d="M16.7 773H29.7V788.2H22.3V779.1H16.7Z"/><circle cx="34" cy="776.3" r="2.7"/><path d="M40.2 773H47L40.8 788.2H34Z"/></g>
<polygon points="1594.0,816.5 1590.2,823.0 1582.8,823.0 1579.0,816.5 1582.8,810.0 1590.2,810.0" fill="none" stroke="#d0d0d0" stroke-width="1.1"/>
<circle cx="1586.5" cy="816.5" r="2" fill="none" stroke="#d0d0d0" stroke-width="1.1"/>
</svg>
<div style="position:absolute;left:0;top:0;width:1616px;height:524px;overflow:hidden">
<div class="ax" style="top:47px">128.000</div>
<div class="ax" style="top:83px">124.000</div>
<div class="ax" style="top:119px">120.000</div>
<div class="ax" style="top:155px">116.000</div>
<div class="ax" style="top:227px">108.000</div>
<div class="ax" style="top:263px">104.000</div>
<div class="ax" style="top:299px">100.000</div>
<div class="ax" style="top:335px">96.000</div>
<div class="ax" style="top:371px">92.000</div>
<div class="ax" style="top:407px">88.000</div>
<div class="ax" style="top:479px">80.000</div>
<div class="ax" style="top:515px">76.000</div>
</div>
<div class="ax" style="top:530.5px">80,00</div>
<div class="ax" style="top:574.3px">60,00</div>
<div class="ax" style="top:618.2px">40,00</div>
<div class="ax" style="top:661.5px">20,00</div>
<div class="ax" style="top:686.8px">40</div>
<div class="ax" style="top:719.6px">20</div>
<div class="ax" style="top:771.6px">0,00</div>
<div class="pb" style="top:54.7px;width:56px">127.054</div>
<div class="pb" style="top:189.7px;width:56px">112.016</div>
<div class="pb" style="top:213.4px;width:56px">109.398</div>
<div class="pb" style="top:315.7px;width:49px">98.037</div>
<div class="pb" style="top:377.7px;width:49px">90.905</div>
<div class="pb" style="top:394px;width:49px">89.320</div>
<div class="lp"><div>85.997</div><div class="t">15:45:28</div></div>
<div class="sym">BTCUSD</div>
<div class="usd"><span>USD</span><svg width="8" height="6" viewBox="0 0 8 6"><path d="M1 1.2 L4 4.2 L7 1.2" fill="none" stroke="#d1d4dc" stroke-width="1.3"/></svg></div>
<div class="tl" style="left:12.8px">Jul</div>
<div class="tl" style="left:260.4px">Aug</div>
<div class="tl" style="left:508px">Sep</div>
<div class="tl" style="left:747.5px">Okt</div>
<div class="tl" style="left:995.1px">Nov</div>
<div class="tl" style="left:1234.7px">Dez</div>
<div class="tl b" style="left:1482.2px">2026</div>
<div class="wid">Widerstände</div>
<div class="lgbg" style="left:5px;top:3.5px;width:590px;height:24.5px"></div>
<div class="lgbg" style="left:5px;top:28px;width:165px;height:42px"></div>
<svg style="position:absolute;left:13.9px;top:7.1px" width="18" height="18" viewBox="0 0 18 18"><circle cx="9" cy="9" r="8.9" fill="#f7931a"/><g transform="rotate(14 9 9)"><text x="9.2" y="12.6" font-family="Liberation Sans, sans-serif" font-weight="bold" font-size="10" fill="#fff" text-anchor="middle">B</text><path d="M7.6 3.6V5.6M9.8 3.6V5.6M7.6 12.4V14.4M9.8 12.4V14.4" stroke="#fff" stroke-width="1.1"/></g></svg>
<div class="title" style="left:35.9px;letter-spacing:0.58px">Bitcoin</div>
<div class="title" style="left:94.9px;letter-spacing:0px">/</div>
<div class="title" style="left:104.6px;letter-spacing:0.27px">Dollar</div>
<div class="title" style="left:149.3px;letter-spacing:0px">·</div>
<div class="title" style="left:158.5px;letter-spacing:-0.7px">1T</div>
<div class="title" style="left:178.7px;letter-spacing:0px">·</div>
<div class="title" style="left:187.6px;letter-spacing:0.63px">Bitstamp</div>
<svg style="position:absolute;left:259px;top:7.5px" width="18" height="18" viewBox="0 0 18 18"><circle cx="9" cy="9" r="8.7" fill="#0d2a26"/><circle cx="9" cy="9" r="4.1" fill="#22ab94"/></svg>
<div class="ohlc"><span class="k">O</span><span class="v">84.686</span><span class="k" style="margin-left:5.8px">H</span><span class="v">86.791</span><span class="k" style="margin-left:6.2px">L</span><span class="v">84.624</span><span class="k" style="margin-left:5.8px">C</span><span class="v">85.997</span><span class="v" style="margin-left:6.2px">+1.318</span><span class="v" style="margin-left:4.2px;letter-spacing:-0.32px">(+1,56%)</span></div>
<div class="btn sell"><div class="p">85.991</div><div class="n">VERKAUF</div></div>
<div class="one">1</div>
<div class="btn buy"><div class="p">85.992</div><div class="n">KAUF</div></div>
<div class="coll" style="left:13.3px;top:73.2px;width:38.5px;height:20.6px"><svg width="9" height="7" viewBox="0 0 10 7" style="position:absolute;left:6px;top:6.5px"><path d="M1 1.2 L5 5 L9 1.2" fill="none" stroke="#e0e0e0" stroke-width="1.4"/></svg><span>10</span></div>
<svg style="position:absolute;left:68px;top:74.8px" width="18" height="18" viewBox="-9 -9 18 18"><circle r="8.5" fill="#170a3c"/><g fill="none" stroke="#7b3ff2" stroke-width="1.7" stroke-linecap="round"><path d="M-5 -1.2 A5.2 5.2 0 0 1 4.3 -3"/><path d="M5 1.2 A5.2 5.2 0 0 1 -4.3 3"/></g><path d="M2.2 -3.2 L5.6 -2.4 L5 -5.8 Z" fill="#7b3ff2"/><path d="M-2.2 3.2 L-5.6 2.4 L-5 5.8 Z" fill="#7b3ff2"/></svg>
<div class="coll" style="left:13.3px;top:532.3px;width:28.5px;height:20.7px"><svg width="9" height="7" viewBox="0 0 10 7" style="position:absolute;left:9px;top:7px"><path d="M1 1.2 L5 5 L9 1.2" fill="none" stroke="#e0e0e0" stroke-width="1.4"/></svg></div>
<svg style="position:absolute;left:58px;top:534px" width="18" height="18" viewBox="-9 -9 18 18"><circle r="8.5" fill="#170a3c"/><g fill="none" stroke="#7b3ff2" stroke-width="1.7" stroke-linecap="round"><path d="M-5 -1.2 A5.2 5.2 0 0 1 4.3 -3"/><path d="M5 1.2 A5.2 5.2 0 0 1 -4.3 3"/></g><path d="M2.2 -3.2 L5.6 -2.4 L5 -5.8 Z" fill="#7b3ff2"/><path d="M-2.2 3.2 L-5.6 2.4 L-5 5.8 Z" fill="#7b3ff2"/></svg>
</body></html>
